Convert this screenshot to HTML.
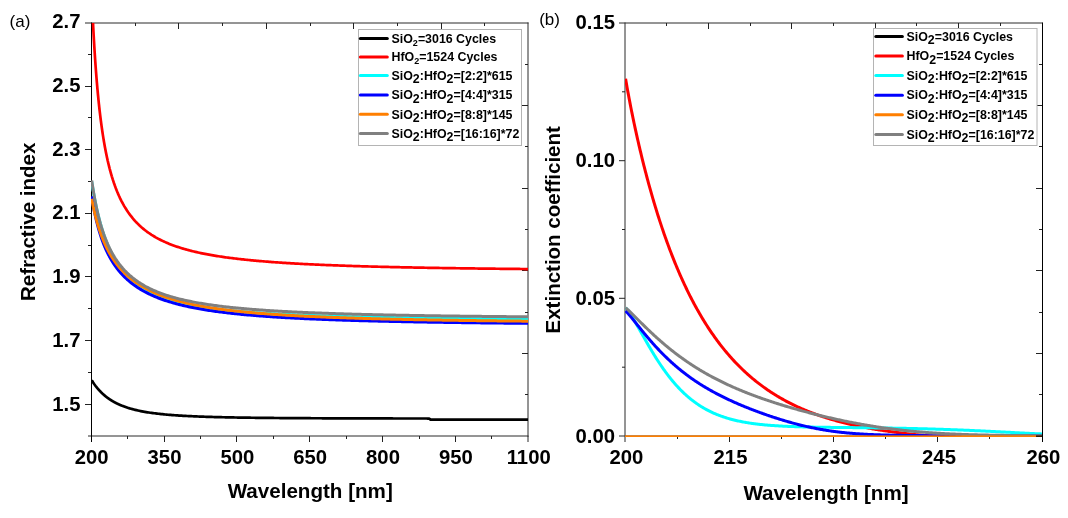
<!DOCTYPE html><html><head><meta charset="utf-8"><style>html,body{margin:0;padding:0;background:#fff;}svg{display:block;will-change:transform;}text{font-family:"Liberation Sans",sans-serif;fill:#000;}</style></head><body>
<svg width="1068" height="518" viewBox="0 0 1068 518">
<rect width="1068" height="518" fill="#fff"/>
<defs><clipPath id="ca"><rect x="91" y="23" width="437" height="413"/></clipPath><clipPath id="cb"><rect x="625" y="23" width="417" height="413"/></clipPath></defs>
<line x1="85" y1="23" x2="528.5" y2="23" stroke="#2a2a2a" stroke-width="1"/>
<line x1="88" y1="436" x2="528.5" y2="436" stroke="#2a2a2a" stroke-width="1"/>
<line x1="528" y1="22.5" x2="528" y2="436.5" stroke="#2a2a2a" stroke-width="1"/>
<line x1="91.5" y1="22.5" x2="91.5" y2="442" stroke="#000" stroke-width="1"/>
<line x1="127.5" y1="436" x2="127.5" y2="439" stroke="#222" stroke-width="1"/>
<line x1="164.5" y1="436" x2="164.5" y2="442" stroke="#222" stroke-width="1"/>
<line x1="200.5" y1="436" x2="200.5" y2="439" stroke="#222" stroke-width="1"/>
<line x1="236.5" y1="436" x2="236.5" y2="442" stroke="#222" stroke-width="1"/>
<line x1="273.5" y1="436" x2="273.5" y2="439" stroke="#222" stroke-width="1"/>
<line x1="309.5" y1="436" x2="309.5" y2="442" stroke="#222" stroke-width="1"/>
<line x1="346.5" y1="436" x2="346.5" y2="439" stroke="#222" stroke-width="1"/>
<line x1="382.5" y1="436" x2="382.5" y2="442" stroke="#222" stroke-width="1"/>
<line x1="419.5" y1="436" x2="419.5" y2="439" stroke="#222" stroke-width="1"/>
<line x1="455.5" y1="436" x2="455.5" y2="442" stroke="#222" stroke-width="1"/>
<line x1="491.5" y1="436" x2="491.5" y2="439" stroke="#222" stroke-width="1"/>
<line x1="528.0" y1="436" x2="528.0" y2="442" stroke="#2a2a2a" stroke-width="1"/>
<line x1="135.5" y1="23" x2="135.5" y2="26" stroke="#222" stroke-width="1"/>
<line x1="178.5" y1="23" x2="178.5" y2="29" stroke="#222" stroke-width="1"/>
<line x1="222.5" y1="23" x2="222.5" y2="26" stroke="#222" stroke-width="1"/>
<line x1="266.5" y1="23" x2="266.5" y2="29" stroke="#222" stroke-width="1"/>
<line x1="310.5" y1="23" x2="310.5" y2="26" stroke="#222" stroke-width="1"/>
<line x1="353.5" y1="23" x2="353.5" y2="29" stroke="#222" stroke-width="1"/>
<line x1="397.5" y1="23" x2="397.5" y2="26" stroke="#222" stroke-width="1"/>
<line x1="441.5" y1="23" x2="441.5" y2="29" stroke="#222" stroke-width="1"/>
<line x1="484.5" y1="23" x2="484.5" y2="26" stroke="#222" stroke-width="1"/>
<line x1="88" y1="54.5" x2="91" y2="54.5" stroke="#222" stroke-width="1"/>
<line x1="85" y1="86.5" x2="91" y2="86.5" stroke="#222" stroke-width="1"/>
<line x1="88" y1="117.5" x2="91" y2="117.5" stroke="#222" stroke-width="1"/>
<line x1="85" y1="149.5" x2="91" y2="149.5" stroke="#222" stroke-width="1"/>
<line x1="88" y1="181.5" x2="91" y2="181.5" stroke="#222" stroke-width="1"/>
<line x1="85" y1="213.5" x2="91" y2="213.5" stroke="#222" stroke-width="1"/>
<line x1="88" y1="245.5" x2="91" y2="245.5" stroke="#222" stroke-width="1"/>
<line x1="85" y1="276.5" x2="91" y2="276.5" stroke="#222" stroke-width="1"/>
<line x1="88" y1="308.5" x2="91" y2="308.5" stroke="#222" stroke-width="1"/>
<line x1="85" y1="340.5" x2="91" y2="340.5" stroke="#222" stroke-width="1"/>
<line x1="88" y1="372.5" x2="91" y2="372.5" stroke="#222" stroke-width="1"/>
<line x1="85" y1="404.5" x2="91" y2="404.5" stroke="#222" stroke-width="1"/>
<line x1="525" y1="64.5" x2="528" y2="64.5" stroke="#222" stroke-width="1"/>
<line x1="522" y1="105.5" x2="528" y2="105.5" stroke="#222" stroke-width="1"/>
<line x1="525" y1="146.5" x2="528" y2="146.5" stroke="#222" stroke-width="1"/>
<line x1="522" y1="188.5" x2="528" y2="188.5" stroke="#222" stroke-width="1"/>
<line x1="525" y1="229.5" x2="528" y2="229.5" stroke="#222" stroke-width="1"/>
<line x1="522" y1="270.5" x2="528" y2="270.5" stroke="#222" stroke-width="1"/>
<line x1="525" y1="312.5" x2="528" y2="312.5" stroke="#222" stroke-width="1"/>
<line x1="522" y1="353.5" x2="528" y2="353.5" stroke="#222" stroke-width="1"/>
<line x1="525" y1="394.5" x2="528" y2="394.5" stroke="#222" stroke-width="1"/>
<g clip-path="url(#ca)" fill="none" stroke-width="3.0" stroke-linejoin="round">
<path d="M91.73,380.29 L91.85,380.48 L91.97,380.67 L92.08,380.86 L92.20,381.04 L92.32,381.23 L92.44,381.42 L92.56,381.60 L92.68,381.78 L92.80,381.96 L92.92,382.15 L93.04,382.32 L93.15,382.50 L93.27,382.68 L93.39,382.86 L93.51,383.03 L93.63,383.21 L93.75,383.38 L93.87,383.55 L93.99,383.72 L94.11,383.89 L94.22,384.06 L94.34,384.23 L94.46,384.39 L94.58,384.56 L94.70,384.72 L94.82,384.89 L94.94,385.05 L95.06,385.21 L95.17,385.37 L95.29,385.53 L95.41,385.69 L95.53,385.85 L95.65,386.00 L95.77,386.16 L95.89,386.31 L96.01,386.47 L96.13,386.62 L96.24,386.77 L96.36,386.92 L96.48,387.07 L96.60,387.22 L96.72,387.37 L96.84,387.52 L96.96,387.66 L97.08,387.81 L97.20,387.95 L97.31,388.10 L97.43,388.24 L97.55,388.38 L97.67,388.52 L97.79,388.67 L97.91,388.80 L98.03,388.94 L98.15,389.08 L98.27,389.22 L98.38,389.35 L98.50,389.49 L98.62,389.62 L98.74,389.76 L98.86,389.89 L98.98,390.02 L99.10,390.16 L99.22,390.29 L99.33,390.42 L99.45,390.54 L99.57,390.67 L99.69,390.80 L99.81,390.93 L99.93,391.05 L100.05,391.18 L100.17,391.30 L100.29,391.43 L100.40,391.55 L100.52,391.67 L100.64,391.80 L100.76,391.92 L100.88,392.04 L101.00,392.16 L101.12,392.28 L101.24,392.39 L101.36,392.51 L101.47,392.63 L101.59,392.75 L101.71,392.86 L101.83,392.98 L101.95,393.09 L102.07,393.20 L102.19,393.32 L102.31,393.43 L102.42,393.54 L102.54,393.65 L102.66,393.76 L102.78,393.87 L102.90,393.98 L103.02,394.09 L103.14,394.20 L103.26,394.31 L103.38,394.41 L103.49,394.52 L103.61,394.62 L103.73,394.73 L103.85,394.83 L103.97,394.94 L104.09,395.04 L104.21,395.14 L104.33,395.25 L104.45,395.35 L104.56,395.45 L104.68,395.55 L104.80,395.65 L104.92,395.75 L105.04,395.85 L105.16,395.95 L105.28,396.04 L105.40,396.14 L105.51,396.24 L105.63,396.33 L105.75,396.43 L105.87,396.52 L105.99,396.62 L106.11,396.71 L106.23,396.81 L106.35,396.90 L106.47,396.99 L106.58,397.08 L106.70,397.17 L106.82,397.27 L106.94,397.36 L107.06,397.45 L107.18,397.53 L107.30,397.62 L107.42,397.71 L107.54,397.80 L107.65,397.89 L107.77,397.98 L107.89,398.06 L108.01,398.15 L108.13,398.23 L108.25,398.32 L108.37,398.40 L108.49,398.49 L108.60,398.57 L108.72,398.66 L108.84,398.74 L108.96,398.82 L109.08,398.90 L109.20,398.98 L109.32,399.07 L109.44,399.15 L109.56,399.23 L109.67,399.31 L109.79,399.39 L109.91,399.47 L110.03,399.54 L110.15,399.62 L110.27,399.70 L110.39,399.78 L110.51,399.85 L110.63,399.93 L110.74,400.01 L110.86,400.08 L110.98,400.16 L111.10,400.23 L111.22,400.31 L111.34,400.38 L111.46,400.46 L111.58,400.53 L111.70,400.60 L111.81,400.68 L111.93,400.75 L112.05,400.82 L112.17,400.89 L112.29,400.96 L112.41,401.03 L112.53,401.10 L112.65,401.17 L112.76,401.24 L112.88,401.31 L113.00,401.38 L113.12,401.45 L113.24,401.52 L113.36,401.59 L113.48,401.66 L113.60,401.72 L113.72,401.79 L113.83,401.86 L113.95,401.92 L114.07,401.99 L114.19,402.05 L114.31,402.12 L114.43,402.19 L114.55,402.25 L114.67,402.31 L114.79,402.38 L114.90,402.44 L115.02,402.51 L115.14,402.57 L115.26,402.63 L115.38,402.69 L115.50,402.76 L115.62,402.82 L115.74,402.88 L115.85,402.94 L115.97,403.00 L116.09,403.06 L116.21,403.12 L116.33,403.18 L116.45,403.24 L116.57,403.30 L116.69,403.36 L116.81,403.42 L116.92,403.48 L117.04,403.54 L117.16,403.59 L117.28,403.65 L117.40,403.71 L117.52,403.77 L117.64,403.82 L117.76,403.88 L117.88,403.94 L117.99,403.99 L118.11,404.05 L118.23,404.10 L118.35,404.16 L118.47,404.21 L118.59,404.27 L118.71,404.32 L118.83,404.38 L118.94,404.43 L119.06,404.48 L119.18,404.54 L119.30,404.59 L119.42,404.64 L119.54,404.69 L119.66,404.75 L119.78,404.80 L119.90,404.85 L120.01,404.90 L120.13,404.95 L121.50,405.53 L122.87,406.07 L124.24,406.58 L125.60,407.07 L126.97,407.53 L128.34,407.97 L129.70,408.39 L131.07,408.78 L132.44,409.16 L133.81,409.52 L135.17,409.86 L136.54,410.18 L137.91,410.49 L139.28,410.79 L140.64,411.07 L142.01,411.34 L143.38,411.59 L144.75,411.84 L146.11,412.07 L147.48,412.30 L148.85,412.51 L150.22,412.72 L151.58,412.91 L152.95,413.10 L154.32,413.28 L155.68,413.45 L157.05,413.62 L158.42,413.78 L159.79,413.93 L161.15,414.07 L162.52,414.21 L163.89,414.35 L165.26,414.48 L166.62,414.60 L167.99,414.72 L169.36,414.84 L170.73,414.95 L172.09,415.06 L173.46,415.16 L174.83,415.26 L176.19,415.35 L177.56,415.44 L178.93,415.53 L180.30,415.62 L181.66,415.70 L183.03,415.78 L184.40,415.86 L185.77,415.93 L187.13,416.00 L188.50,416.07 L189.87,416.14 L191.24,416.20 L192.60,416.27 L193.97,416.33 L195.34,416.39 L196.70,416.44 L198.07,416.50 L199.44,416.55 L200.81,416.60 L202.17,416.65 L203.54,416.70 L204.91,416.75 L206.28,416.79 L207.64,416.84 L209.01,416.88 L210.38,416.92 L211.75,416.96 L213.11,417.00 L214.48,417.04 L215.85,417.07 L217.22,417.11 L218.58,417.14 L219.95,417.18 L221.32,417.21 L222.68,417.24 L224.05,417.27 L225.42,417.30 L226.79,417.33 L228.15,417.36 L229.52,417.39 L230.89,417.41 L232.26,417.44 L233.62,417.46 L234.99,417.49 L236.36,417.51 L237.73,417.54 L239.09,417.56 L240.46,417.58 L241.83,417.60 L243.19,417.62 L244.56,417.64 L245.93,417.66 L247.30,417.68 L248.66,417.70 L250.03,417.72 L251.40,417.74 L252.77,417.76 L254.13,417.77 L255.50,417.79 L256.87,417.81 L258.24,417.82 L259.60,417.84 L260.97,417.85 L262.34,417.87 L263.71,417.88 L265.07,417.90 L266.44,417.91 L267.81,417.92 L269.17,417.94 L270.54,417.95 L271.91,417.96 L273.28,417.97 L274.64,417.99 L276.01,418.00 L277.38,418.01 L278.75,418.02 L280.11,418.03 L281.48,418.04 L282.85,418.05 L284.22,418.06 L285.58,418.07 L286.95,418.08 L288.32,418.09 L289.68,418.10 L291.05,418.11 L292.42,418.12 L293.79,418.13 L295.15,418.14 L296.52,418.15 L297.89,418.15 L299.26,418.16 L300.62,418.17 L301.99,418.18 L303.36,418.19 L304.73,418.19 L306.09,418.20 L307.46,418.21 L308.83,418.22 L310.20,418.22 L311.56,418.23 L312.93,418.24 L314.30,418.24 L315.66,418.25 L317.03,418.25 L318.40,418.26 L319.77,418.27 L321.13,418.27 L322.50,418.28 L323.87,418.28 L325.24,418.29 L326.60,418.30 L327.97,418.30 L329.34,418.31 L330.71,418.31 L332.07,418.32 L333.44,418.32 L334.81,418.33 L336.17,418.33 L337.54,418.34 L338.91,418.34 L340.28,418.35 L341.64,418.35 L343.01,418.35 L344.38,418.36 L345.75,418.36 L347.11,418.37 L348.48,418.37 L349.85,418.38 L351.22,418.38 L352.58,418.38 L353.95,418.39 L355.32,418.39 L356.68,418.39 L358.05,418.40 L359.42,418.40 L360.79,418.41 L362.15,418.41 L363.52,418.41 L364.89,418.42 L366.26,418.42 L367.62,418.42 L368.99,418.43 L370.36,418.43 L371.73,418.43 L373.09,418.43 L374.46,418.44 L375.83,418.44 L377.20,418.44 L378.56,418.45 L379.93,418.45 L381.30,418.45 L382.66,418.46 L384.03,418.46 L385.40,418.46 L386.77,418.46 L388.13,418.47 L389.50,418.47 L390.87,418.47 L392.24,418.47 L393.60,418.48 L394.97,418.48 L396.34,418.48 L397.71,418.48 L399.07,418.48 L400.44,418.49 L401.81,418.49 L403.17,418.49 L404.54,418.49 L405.91,418.50 L407.28,418.50 L408.64,418.50 L410.01,418.50 L411.38,418.50 L412.75,418.51 L414.11,418.51 L415.48,418.51 L416.85,418.51 L418.22,418.51 L419.58,418.52 L420.95,418.52 L422.32,418.52 L423.69,418.52 L425.05,418.52 L426.42,418.52 L427.79,418.53 L429.15,418.53 L430.52,419.63 L431.89,419.63 L433.26,419.63 L434.62,419.63 L435.99,419.64 L437.36,419.64 L438.73,419.64 L440.09,419.64 L441.46,419.64 L442.83,419.64 L444.20,419.64 L445.56,419.65 L446.93,419.65 L448.30,419.65 L449.66,419.65 L451.03,419.65 L452.40,419.65 L453.77,419.65 L455.13,419.66 L456.50,419.66 L457.87,419.66 L459.24,419.66 L460.60,419.66 L461.97,419.66 L463.34,419.66 L464.71,419.66 L466.07,419.67 L467.44,419.67 L468.81,419.67 L470.18,419.67 L471.54,419.67 L472.91,419.67 L474.28,419.67 L475.64,419.67 L477.01,419.67 L478.38,419.68 L479.75,419.68 L481.11,419.68 L482.48,419.68 L483.85,419.68 L485.22,419.68 L486.58,419.68 L487.95,419.68 L489.32,419.68 L490.69,419.69 L492.05,419.69 L493.42,419.69 L494.79,419.69 L496.15,419.69 L497.52,419.69 L498.89,419.69 L500.26,419.69 L501.62,419.69 L502.99,419.69 L504.36,419.69 L505.73,419.69 L507.09,419.70 L508.46,419.70 L509.83,419.70 L511.20,419.70 L512.56,419.70 L513.93,419.70 L515.30,419.70 L516.66,419.70 L518.03,419.70 L519.40,419.70 L520.77,419.70 L522.13,419.70 L523.50,419.71 L524.87,419.71 L526.24,419.71 L527.60,419.71 L528.97,419.71" stroke="#000000" stroke-width="2.7"/>
<path d="M91.73,-5.65 L91.85,-2.75 L91.97,0.10 L92.08,2.89 L92.20,5.62 L92.32,8.31 L92.44,10.94 L92.56,13.52 L92.68,16.05 L92.80,18.53 L92.92,20.97 L93.04,23.36 L93.15,25.71 L93.27,28.02 L93.39,30.29 L93.51,32.51 L93.63,34.70 L93.75,36.85 L93.87,38.96 L93.99,41.04 L94.11,43.08 L94.22,45.08 L94.34,47.06 L94.46,49.00 L94.58,50.90 L94.70,52.78 L94.82,54.63 L94.94,56.45 L95.06,58.23 L95.17,60.00 L95.29,61.73 L95.41,63.43 L95.53,65.11 L95.65,66.77 L95.77,68.40 L95.89,70.00 L96.01,71.58 L96.13,73.14 L96.24,74.67 L96.36,76.19 L96.48,77.68 L96.60,79.14 L96.72,80.59 L96.84,82.02 L96.96,83.43 L97.08,84.81 L97.20,86.18 L97.31,87.53 L97.43,88.86 L97.55,90.17 L97.67,91.47 L97.79,92.75 L97.91,94.01 L98.03,95.25 L98.15,96.48 L98.27,97.69 L98.38,98.89 L98.50,100.07 L98.62,101.23 L98.74,102.38 L98.86,103.52 L98.98,104.64 L99.10,105.75 L99.22,106.84 L99.33,107.92 L99.45,108.99 L99.57,110.04 L99.69,111.08 L99.81,112.11 L99.93,113.13 L100.05,114.13 L100.17,115.13 L100.29,116.11 L100.40,117.08 L100.52,118.03 L100.64,118.98 L100.76,119.92 L100.88,120.84 L101.00,121.76 L101.12,122.66 L101.24,123.56 L101.36,124.44 L101.47,125.32 L101.59,126.18 L101.71,127.04 L101.83,127.89 L101.95,128.72 L102.07,129.55 L102.19,130.37 L102.31,131.18 L102.42,131.98 L102.54,132.78 L102.66,133.56 L102.78,134.34 L102.90,135.11 L103.02,135.87 L103.14,136.62 L103.26,137.37 L103.38,138.10 L103.49,138.83 L103.61,139.56 L103.73,140.27 L103.85,140.98 L103.97,141.68 L104.09,142.38 L104.21,143.06 L104.33,143.74 L104.45,144.42 L104.56,145.09 L104.68,145.75 L104.80,146.40 L104.92,147.05 L105.04,147.69 L105.16,148.33 L105.28,148.96 L105.40,149.59 L105.51,150.20 L105.63,150.82 L105.75,151.42 L105.87,152.03 L105.99,152.62 L106.11,153.21 L106.23,153.80 L106.35,154.38 L106.47,154.95 L106.58,155.52 L106.70,156.09 L106.82,156.65 L106.94,157.20 L107.06,157.75 L107.18,158.30 L107.30,158.84 L107.42,159.37 L107.54,159.90 L107.65,160.43 L107.77,160.95 L107.89,161.47 L108.01,161.98 L108.13,162.49 L108.25,163.00 L108.37,163.50 L108.49,163.99 L108.60,164.48 L108.72,164.97 L108.84,165.45 L108.96,165.93 L109.08,166.41 L109.20,166.88 L109.32,167.35 L109.44,167.81 L109.56,168.27 L109.67,168.73 L109.79,169.18 L109.91,169.63 L110.03,170.08 L110.15,170.52 L110.27,170.96 L110.39,171.40 L110.51,171.83 L110.63,172.26 L110.74,172.68 L110.86,173.11 L110.98,173.52 L111.10,173.94 L111.22,174.35 L111.34,174.76 L111.46,175.17 L111.58,175.57 L111.70,175.97 L111.81,176.37 L111.93,176.76 L112.05,177.15 L112.17,177.54 L112.29,177.93 L112.41,178.31 L112.53,178.69 L112.65,179.07 L112.76,179.44 L112.88,179.81 L113.00,180.18 L113.12,180.55 L113.24,180.91 L113.36,181.27 L113.48,181.63 L113.60,181.99 L113.72,182.34 L113.83,182.69 L113.95,183.04 L114.07,183.39 L114.19,183.73 L114.31,184.07 L114.43,184.41 L114.55,184.75 L114.67,185.08 L114.79,185.41 L114.90,185.74 L115.02,186.07 L115.14,186.40 L115.26,186.72 L115.38,187.04 L115.50,187.36 L115.62,187.68 L115.74,187.99 L115.85,188.30 L115.97,188.61 L116.09,188.92 L116.21,189.23 L116.33,189.53 L116.45,189.83 L116.57,190.13 L116.69,190.43 L116.81,190.73 L116.92,191.02 L117.04,191.31 L117.16,191.61 L117.28,191.89 L117.40,192.18 L117.52,192.47 L117.64,192.75 L117.76,193.03 L117.88,193.31 L117.99,193.59 L118.11,193.86 L118.23,194.14 L118.35,194.41 L118.47,194.68 L118.59,194.95 L118.71,195.22 L118.83,195.49 L118.94,195.75 L119.06,196.01 L119.18,196.27 L119.30,196.53 L119.42,196.79 L119.54,197.05 L119.66,197.30 L119.78,197.56 L119.90,197.81 L120.01,198.06 L120.13,198.31 L121.50,201.07 L122.87,203.65 L124.24,206.07 L125.60,208.34 L126.97,210.48 L128.34,212.50 L129.70,214.41 L131.07,216.21 L132.44,217.92 L133.81,219.53 L135.17,221.07 L136.54,222.53 L137.91,223.92 L139.28,225.25 L140.64,226.51 L142.01,227.72 L143.38,228.87 L144.75,229.97 L146.11,231.03 L147.48,232.04 L148.85,233.01 L150.22,233.94 L151.58,234.84 L152.95,235.70 L154.32,236.52 L155.68,237.32 L157.05,238.08 L158.42,238.82 L159.79,239.53 L161.15,240.22 L162.52,240.88 L163.89,241.52 L165.26,242.14 L166.62,242.74 L167.99,243.32 L169.36,243.88 L170.73,244.42 L172.09,244.95 L173.46,245.45 L174.83,245.95 L176.19,246.43 L177.56,246.89 L178.93,247.34 L180.30,247.78 L181.66,248.20 L183.03,248.61 L184.40,249.01 L185.77,249.40 L187.13,249.78 L188.50,250.15 L189.87,250.51 L191.24,250.86 L192.60,251.20 L193.97,251.53 L195.34,251.85 L196.70,252.17 L198.07,252.47 L199.44,252.77 L200.81,253.06 L202.17,253.35 L203.54,253.62 L204.91,253.89 L206.28,254.16 L207.64,254.42 L209.01,254.67 L210.38,254.91 L211.75,255.15 L213.11,255.39 L214.48,255.62 L215.85,255.84 L217.22,256.06 L218.58,256.28 L219.95,256.49 L221.32,256.69 L222.68,256.90 L224.05,257.09 L225.42,257.29 L226.79,257.47 L228.15,257.66 L229.52,257.84 L230.89,258.02 L232.26,258.19 L233.62,258.36 L234.99,258.53 L236.36,258.69 L237.73,258.85 L239.09,259.01 L240.46,259.16 L241.83,259.32 L243.19,259.46 L244.56,259.61 L245.93,259.75 L247.30,259.89 L248.66,260.03 L250.03,260.16 L251.40,260.30 L252.77,260.43 L254.13,260.56 L255.50,260.68 L256.87,260.80 L258.24,260.93 L259.60,261.04 L260.97,261.16 L262.34,261.28 L263.71,261.39 L265.07,261.50 L266.44,261.61 L267.81,261.72 L269.17,261.82 L270.54,261.93 L271.91,262.03 L273.28,262.13 L274.64,262.23 L276.01,262.32 L277.38,262.42 L278.75,262.51 L280.11,262.61 L281.48,262.70 L282.85,262.79 L284.22,262.88 L285.58,262.96 L286.95,263.05 L288.32,263.13 L289.68,263.21 L291.05,263.30 L292.42,263.38 L293.79,263.46 L295.15,263.53 L296.52,263.61 L297.89,263.69 L299.26,263.76 L300.62,263.83 L301.99,263.91 L303.36,263.98 L304.73,264.05 L306.09,264.12 L307.46,264.19 L308.83,264.25 L310.20,264.32 L311.56,264.39 L312.93,264.45 L314.30,264.51 L315.66,264.58 L317.03,264.64 L318.40,264.70 L319.77,264.76 L321.13,264.82 L322.50,264.88 L323.87,264.93 L325.24,264.99 L326.60,265.05 L327.97,265.10 L329.34,265.16 L330.71,265.21 L332.07,265.27 L333.44,265.32 L334.81,265.37 L336.17,265.42 L337.54,265.47 L338.91,265.52 L340.28,265.57 L341.64,265.62 L343.01,265.67 L344.38,265.72 L345.75,265.76 L347.11,265.81 L348.48,265.85 L349.85,265.90 L351.22,265.94 L352.58,265.99 L353.95,266.03 L355.32,266.08 L356.68,266.12 L358.05,266.16 L359.42,266.20 L360.79,266.24 L362.15,266.28 L363.52,266.32 L364.89,266.36 L366.26,266.40 L367.62,266.44 L368.99,266.48 L370.36,266.52 L371.73,266.55 L373.09,266.59 L374.46,266.63 L375.83,266.66 L377.20,266.70 L378.56,266.73 L379.93,266.77 L381.30,266.80 L382.66,266.84 L384.03,266.87 L385.40,266.90 L386.77,266.94 L388.13,266.97 L389.50,267.00 L390.87,267.03 L392.24,267.07 L393.60,267.10 L394.97,267.13 L396.34,267.16 L397.71,267.19 L399.07,267.22 L400.44,267.25 L401.81,267.28 L403.17,267.31 L404.54,267.33 L405.91,267.36 L407.28,267.39 L408.64,267.42 L410.01,267.45 L411.38,267.47 L412.75,267.50 L414.11,267.53 L415.48,267.55 L416.85,267.58 L418.22,267.61 L419.58,267.63 L420.95,267.66 L422.32,267.68 L423.69,267.71 L425.05,267.73 L426.42,267.75 L427.79,267.78 L429.15,267.80 L430.52,267.83 L431.89,267.85 L433.26,267.87 L434.62,267.90 L435.99,267.92 L437.36,267.94 L438.73,267.96 L440.09,267.98 L441.46,268.01 L442.83,268.03 L444.20,268.05 L445.56,268.07 L446.93,268.09 L448.30,268.11 L449.66,268.13 L451.03,268.15 L452.40,268.17 L453.77,268.19 L455.13,268.21 L456.50,268.23 L457.87,268.25 L459.24,268.27 L460.60,268.29 L461.97,268.31 L463.34,268.33 L464.71,268.35 L466.07,268.37 L467.44,268.38 L468.81,268.40 L470.18,268.42 L471.54,268.44 L472.91,268.46 L474.28,268.47 L475.64,268.49 L477.01,268.51 L478.38,268.53 L479.75,268.54 L481.11,268.56 L482.48,268.58 L483.85,268.59 L485.22,268.61 L486.58,268.62 L487.95,268.64 L489.32,268.66 L490.69,268.67 L492.05,268.69 L493.42,268.70 L494.79,268.72 L496.15,268.73 L497.52,268.75 L498.89,268.76 L500.26,268.78 L501.62,268.79 L502.99,268.81 L504.36,268.82 L505.73,268.84 L507.09,268.85 L508.46,268.87 L509.83,268.88 L511.20,268.89 L512.56,268.91 L513.93,268.92 L515.30,268.93 L516.66,268.95 L518.03,268.96 L519.40,268.97 L520.77,268.99 L522.13,269.00 L523.50,269.01 L524.87,269.03 L526.24,269.04 L527.60,269.05 L528.97,269.06" stroke="#ff0000" stroke-width="2.7"/>
<path d="M91.73,181.60 L91.85,182.37 L91.97,183.13 L92.08,183.89 L92.20,184.64 L92.32,185.39 L92.44,186.12 L92.56,186.85 L92.68,187.58 L92.80,188.29 L92.92,189.00 L93.04,189.71 L93.15,190.41 L93.27,191.10 L93.39,191.78 L93.51,192.46 L93.63,193.14 L93.75,193.81 L93.87,194.47 L93.99,195.12 L94.11,195.77 L94.22,196.42 L94.34,197.06 L94.46,197.69 L94.58,198.32 L94.70,198.95 L94.82,199.56 L94.94,200.18 L95.06,200.78 L95.17,201.39 L95.29,201.98 L95.41,202.58 L95.53,203.17 L95.65,203.75 L95.77,204.33 L95.89,204.90 L96.01,205.47 L96.13,206.03 L96.24,206.59 L96.36,207.15 L96.48,207.70 L96.60,208.24 L96.72,208.79 L96.84,209.32 L96.96,209.86 L97.08,210.38 L97.20,210.91 L97.31,211.43 L97.43,211.95 L97.55,212.46 L97.67,212.97 L97.79,213.47 L97.91,213.97 L98.03,214.47 L98.15,214.96 L98.27,215.45 L98.38,215.94 L98.50,216.42 L98.62,216.90 L98.74,217.37 L98.86,217.84 L98.98,218.31 L99.10,218.78 L99.22,219.24 L99.33,219.69 L99.45,220.15 L99.57,220.60 L99.69,221.04 L99.81,221.49 L99.93,221.93 L100.05,222.37 L100.17,222.80 L100.29,223.23 L100.40,223.66 L100.52,224.08 L100.64,224.50 L100.76,224.92 L100.88,225.34 L101.00,225.75 L101.12,226.16 L101.24,226.57 L101.36,226.97 L101.47,227.37 L101.59,227.77 L101.71,228.17 L101.83,228.56 L101.95,228.95 L102.07,229.34 L102.19,229.72 L102.31,230.10 L102.42,230.48 L102.54,230.86 L102.66,231.23 L102.78,231.60 L102.90,231.97 L103.02,232.34 L103.14,232.70 L103.26,233.07 L103.38,233.43 L103.49,233.78 L103.61,234.14 L103.73,234.49 L103.85,234.84 L103.97,235.19 L104.09,235.53 L104.21,235.87 L104.33,236.21 L104.45,236.55 L104.56,236.89 L104.68,237.22 L104.80,237.55 L104.92,237.88 L105.04,238.21 L105.16,238.54 L105.28,238.86 L105.40,239.18 L105.51,239.50 L105.63,239.82 L105.75,240.13 L105.87,240.44 L105.99,240.76 L106.11,241.06 L106.23,241.37 L106.35,241.68 L106.47,241.98 L106.58,242.28 L106.70,242.58 L106.82,242.88 L106.94,243.17 L107.06,243.47 L107.18,243.76 L107.30,244.05 L107.42,244.34 L107.54,244.63 L107.65,244.91 L107.77,245.19 L107.89,245.47 L108.01,245.75 L108.13,246.03 L108.25,246.31 L108.37,246.58 L108.49,246.86 L108.60,247.13 L108.72,247.40 L108.84,247.67 L108.96,247.93 L109.08,248.20 L109.20,248.46 L109.32,248.72 L109.44,248.98 L109.56,249.24 L109.67,249.50 L109.79,249.76 L109.91,250.01 L110.03,250.26 L110.15,250.51 L110.27,250.76 L110.39,251.01 L110.51,251.26 L110.63,251.51 L110.74,251.75 L110.86,251.99 L110.98,252.23 L111.10,252.47 L111.22,252.71 L111.34,252.95 L111.46,253.19 L111.58,253.42 L111.70,253.65 L111.81,253.89 L111.93,254.12 L112.05,254.35 L112.17,254.57 L112.29,254.80 L112.41,255.03 L112.53,255.25 L112.65,255.47 L112.76,255.70 L112.88,255.92 L113.00,256.14 L113.12,256.35 L113.24,256.57 L113.36,256.79 L113.48,257.00 L113.60,257.21 L113.72,257.43 L113.83,257.64 L113.95,257.85 L114.07,258.06 L114.19,258.26 L114.31,258.47 L114.43,258.68 L114.55,258.88 L114.67,259.08 L114.79,259.29 L114.90,259.49 L115.02,259.69 L115.14,259.89 L115.26,260.09 L115.38,260.28 L115.50,260.48 L115.62,260.67 L115.74,260.87 L115.85,261.06 L115.97,261.25 L116.09,261.44 L116.21,261.63 L116.33,261.82 L116.45,262.01 L116.57,262.20 L116.69,262.38 L116.81,262.57 L116.92,262.75 L117.04,262.93 L117.16,263.12 L117.28,263.30 L117.40,263.48 L117.52,263.66 L117.64,263.84 L117.76,264.01 L117.88,264.19 L117.99,264.37 L118.11,264.54 L118.23,264.72 L118.35,264.89 L118.47,265.06 L118.59,265.23 L118.71,265.40 L118.83,265.57 L118.94,265.74 L119.06,265.91 L119.18,266.08 L119.30,266.24 L119.42,266.41 L119.54,266.57 L119.66,266.74 L119.78,266.90 L119.90,267.06 L120.01,267.23 L120.13,267.39 L121.50,269.18 L122.87,270.88 L124.24,272.49 L125.60,274.02 L126.97,275.48 L128.34,276.86 L129.70,278.17 L131.07,279.43 L132.44,280.62 L133.81,281.76 L135.17,282.85 L136.54,283.89 L137.91,284.89 L139.28,285.85 L140.64,286.76 L142.01,287.64 L143.38,288.48 L144.75,289.29 L146.11,290.06 L147.48,290.81 L148.85,291.53 L150.22,292.22 L151.58,292.89 L152.95,293.53 L154.32,294.15 L155.68,294.74 L157.05,295.32 L158.42,295.87 L159.79,296.41 L161.15,296.93 L162.52,297.43 L163.89,297.92 L165.26,298.39 L166.62,298.84 L167.99,299.28 L169.36,299.71 L170.73,300.12 L172.09,300.52 L173.46,300.91 L174.83,301.29 L176.19,301.65 L177.56,302.01 L178.93,302.35 L180.30,302.69 L181.66,303.02 L183.03,303.33 L184.40,303.64 L185.77,303.94 L187.13,304.23 L188.50,304.52 L189.87,304.79 L191.24,305.06 L192.60,305.32 L193.97,305.58 L195.34,305.83 L196.70,306.07 L198.07,306.31 L199.44,306.54 L200.81,306.76 L202.17,306.98 L203.54,307.20 L204.91,307.41 L206.28,307.61 L207.64,307.81 L209.01,308.01 L210.38,308.20 L211.75,308.38 L213.11,308.56 L214.48,308.74 L215.85,308.92 L217.22,309.09 L218.58,309.25 L219.95,309.41 L221.32,309.57 L222.68,309.73 L224.05,309.88 L225.42,310.03 L226.79,310.18 L228.15,310.32 L229.52,310.46 L230.89,310.60 L232.26,310.73 L233.62,310.87 L234.99,310.99 L236.36,311.12 L237.73,311.25 L239.09,311.37 L240.46,311.49 L241.83,311.60 L243.19,311.72 L244.56,311.83 L245.93,311.94 L247.30,312.05 L248.66,312.16 L250.03,312.26 L251.40,312.36 L252.77,312.46 L254.13,312.56 L255.50,312.66 L256.87,312.76 L258.24,312.85 L259.60,312.94 L260.97,313.03 L262.34,313.12 L263.71,313.21 L265.07,313.30 L266.44,313.38 L267.81,313.46 L269.17,313.54 L270.54,313.62 L271.91,313.70 L273.28,313.78 L274.64,313.86 L276.01,313.93 L277.38,314.01 L278.75,314.08 L280.11,314.15 L281.48,314.22 L282.85,314.29 L284.22,314.36 L285.58,314.42 L286.95,314.49 L288.32,314.56 L289.68,314.62 L291.05,314.68 L292.42,314.74 L293.79,314.81 L295.15,314.87 L296.52,314.93 L297.89,314.98 L299.26,315.04 L300.62,315.10 L301.99,315.15 L303.36,315.21 L304.73,315.26 L306.09,315.32 L307.46,315.37 L308.83,315.42 L310.20,315.47 L311.56,315.52 L312.93,315.57 L314.30,315.62 L315.66,315.67 L317.03,315.72 L318.40,315.76 L319.77,315.81 L321.13,315.86 L322.50,315.90 L323.87,315.95 L325.24,315.99 L326.60,316.03 L327.97,316.08 L329.34,316.12 L330.71,316.16 L332.07,316.20 L333.44,316.24 L334.81,316.28 L336.17,316.32 L337.54,316.36 L338.91,316.40 L340.28,316.44 L341.64,316.47 L343.01,316.51 L344.38,316.55 L345.75,316.58 L347.11,316.62 L348.48,316.65 L349.85,316.69 L351.22,316.72 L352.58,316.76 L353.95,316.79 L355.32,316.82 L356.68,316.86 L358.05,316.89 L359.42,316.92 L360.79,316.95 L362.15,316.98 L363.52,317.01 L364.89,317.04 L366.26,317.07 L367.62,317.10 L368.99,317.13 L370.36,317.16 L371.73,317.19 L373.09,317.22 L374.46,317.25 L375.83,317.28 L377.20,317.30 L378.56,317.33 L379.93,317.36 L381.30,317.38 L382.66,317.41 L384.03,317.44 L385.40,317.46 L386.77,317.49 L388.13,317.51 L389.50,317.54 L390.87,317.56 L392.24,317.58 L393.60,317.61 L394.97,317.63 L396.34,317.66 L397.71,317.68 L399.07,317.70 L400.44,317.72 L401.81,317.75 L403.17,317.77 L404.54,317.79 L405.91,317.81 L407.28,317.83 L408.64,317.86 L410.01,317.88 L411.38,317.90 L412.75,317.92 L414.11,317.94 L415.48,317.96 L416.85,317.98 L418.22,318.00 L419.58,318.02 L420.95,318.04 L422.32,318.06 L423.69,318.08 L425.05,318.09 L426.42,318.11 L427.79,318.13 L429.15,318.15 L430.52,318.17 L431.89,318.19 L433.26,318.20 L434.62,318.22 L435.99,318.24 L437.36,318.26 L438.73,318.27 L440.09,318.29 L441.46,318.31 L442.83,318.32 L444.20,318.34 L445.56,318.36 L446.93,318.37 L448.30,318.39 L449.66,318.40 L451.03,318.42 L452.40,318.43 L453.77,318.45 L455.13,318.46 L456.50,318.48 L457.87,318.49 L459.24,318.51 L460.60,318.52 L461.97,318.54 L463.34,318.55 L464.71,318.57 L466.07,318.58 L467.44,318.60 L468.81,318.61 L470.18,318.62 L471.54,318.64 L472.91,318.65 L474.28,318.66 L475.64,318.68 L477.01,318.69 L478.38,318.70 L479.75,318.72 L481.11,318.73 L482.48,318.74 L483.85,318.75 L485.22,318.77 L486.58,318.78 L487.95,318.79 L489.32,318.80 L490.69,318.81 L492.05,318.83 L493.42,318.84 L494.79,318.85 L496.15,318.86 L497.52,318.87 L498.89,318.89 L500.26,318.90 L501.62,318.91 L502.99,318.92 L504.36,318.93 L505.73,318.94 L507.09,318.95 L508.46,318.96 L509.83,318.97 L511.20,318.98 L512.56,318.99 L513.93,319.00 L515.30,319.02 L516.66,319.03 L518.03,319.04 L519.40,319.05 L520.77,319.06 L522.13,319.07 L523.50,319.08 L524.87,319.09 L526.24,319.10 L527.60,319.10 L528.97,319.11" stroke="#00ffff"/>
<path d="M91.73,196.31 L91.85,197.06 L91.97,197.81 L92.08,198.55 L92.20,199.28 L92.32,200.00 L92.44,200.72 L92.56,201.42 L92.68,202.12 L92.80,202.81 L92.92,203.49 L93.04,204.16 L93.15,204.83 L93.27,205.48 L93.39,206.13 L93.51,206.78 L93.63,207.41 L93.75,208.04 L93.87,208.66 L93.99,209.28 L94.11,209.89 L94.22,210.49 L94.34,211.08 L94.46,211.67 L94.58,212.26 L94.70,212.83 L94.82,213.40 L94.94,213.97 L95.06,214.53 L95.17,215.08 L95.29,215.63 L95.41,216.17 L95.53,216.71 L95.65,217.24 L95.77,217.76 L95.89,218.29 L96.01,218.80 L96.13,219.31 L96.24,219.82 L96.36,220.32 L96.48,220.82 L96.60,221.31 L96.72,221.79 L96.84,222.28 L96.96,222.75 L97.08,223.23 L97.20,223.70 L97.31,224.16 L97.43,224.62 L97.55,225.08 L97.67,225.53 L97.79,225.98 L97.91,226.42 L98.03,226.86 L98.15,227.30 L98.27,227.73 L98.38,228.16 L98.50,228.58 L98.62,229.00 L98.74,229.42 L98.86,229.84 L98.98,230.25 L99.10,230.65 L99.22,231.06 L99.33,231.46 L99.45,231.85 L99.57,232.25 L99.69,232.64 L99.81,233.02 L99.93,233.41 L100.05,233.79 L100.17,234.17 L100.29,234.54 L100.40,234.91 L100.52,235.28 L100.64,235.65 L100.76,236.01 L100.88,236.37 L101.00,236.73 L101.12,237.08 L101.24,237.43 L101.36,237.78 L101.47,238.13 L101.59,238.47 L101.71,238.81 L101.83,239.15 L101.95,239.48 L102.07,239.82 L102.19,240.15 L102.31,240.48 L102.42,240.80 L102.54,241.13 L102.66,241.45 L102.78,241.76 L102.90,242.08 L103.02,242.39 L103.14,242.71 L103.26,243.02 L103.38,243.32 L103.49,243.63 L103.61,243.93 L103.73,244.23 L103.85,244.53 L103.97,244.83 L104.09,245.12 L104.21,245.41 L104.33,245.70 L104.45,245.99 L104.56,246.28 L104.68,246.56 L104.80,246.85 L104.92,247.13 L105.04,247.40 L105.16,247.68 L105.28,247.96 L105.40,248.23 L105.51,248.50 L105.63,248.77 L105.75,249.04 L105.87,249.30 L105.99,249.57 L106.11,249.83 L106.23,250.09 L106.35,250.35 L106.47,250.61 L106.58,250.86 L106.70,251.12 L106.82,251.37 L106.94,251.62 L107.06,251.87 L107.18,252.12 L107.30,252.36 L107.42,252.61 L107.54,252.85 L107.65,253.09 L107.77,253.33 L107.89,253.57 L108.01,253.81 L108.13,254.04 L108.25,254.28 L108.37,254.51 L108.49,254.74 L108.60,254.97 L108.72,255.20 L108.84,255.43 L108.96,255.65 L109.08,255.88 L109.20,256.10 L109.32,256.32 L109.44,256.54 L109.56,256.76 L109.67,256.98 L109.79,257.20 L109.91,257.41 L110.03,257.63 L110.15,257.84 L110.27,258.05 L110.39,258.26 L110.51,258.47 L110.63,258.68 L110.74,258.89 L110.86,259.09 L110.98,259.30 L111.10,259.50 L111.22,259.70 L111.34,259.90 L111.46,260.10 L111.58,260.30 L111.70,260.50 L111.81,260.70 L111.93,260.89 L112.05,261.09 L112.17,261.28 L112.29,261.47 L112.41,261.67 L112.53,261.86 L112.65,262.05 L112.76,262.23 L112.88,262.42 L113.00,262.61 L113.12,262.79 L113.24,262.98 L113.36,263.16 L113.48,263.34 L113.60,263.52 L113.72,263.70 L113.83,263.88 L113.95,264.06 L114.07,264.24 L114.19,264.42 L114.31,264.59 L114.43,264.77 L114.55,264.94 L114.67,265.11 L114.79,265.29 L114.90,265.46 L115.02,265.63 L115.14,265.80 L115.26,265.97 L115.38,266.14 L115.50,266.30 L115.62,266.47 L115.74,266.63 L115.85,266.80 L115.97,266.96 L116.09,267.12 L116.21,267.29 L116.33,267.45 L116.45,267.61 L116.57,267.77 L116.69,267.93 L116.81,268.09 L116.92,268.24 L117.04,268.40 L117.16,268.56 L117.28,268.71 L117.40,268.86 L117.52,269.02 L117.64,269.17 L117.76,269.32 L117.88,269.48 L117.99,269.63 L118.11,269.78 L118.23,269.93 L118.35,270.07 L118.47,270.22 L118.59,270.37 L118.71,270.52 L118.83,270.66 L118.94,270.81 L119.06,270.95 L119.18,271.09 L119.30,271.24 L119.42,271.38 L119.54,271.52 L119.66,271.66 L119.78,271.80 L119.90,271.94 L120.01,272.08 L120.13,272.22 L121.50,273.77 L122.87,275.25 L124.24,276.65 L125.60,277.98 L126.97,279.26 L128.34,280.48 L129.70,281.64 L131.07,282.75 L132.44,283.82 L133.81,284.85 L135.17,285.83 L136.54,286.77 L137.91,287.68 L139.28,288.55 L140.64,289.39 L142.01,290.20 L143.38,290.98 L144.75,291.73 L146.11,292.45 L147.48,293.15 L148.85,293.83 L150.22,294.49 L151.58,295.12 L152.95,295.73 L154.32,296.32 L155.68,296.90 L157.05,297.45 L158.42,297.99 L159.79,298.51 L161.15,299.02 L162.52,299.51 L163.89,299.99 L165.26,300.46 L166.62,300.91 L167.99,301.35 L169.36,301.77 L170.73,302.19 L172.09,302.59 L173.46,302.98 L174.83,303.36 L176.19,303.74 L177.56,304.10 L178.93,304.45 L180.30,304.79 L181.66,305.13 L183.03,305.46 L184.40,305.78 L185.77,306.09 L187.13,306.39 L188.50,306.69 L189.87,306.98 L191.24,307.26 L192.60,307.53 L193.97,307.80 L195.34,308.07 L196.70,308.32 L198.07,308.58 L199.44,308.82 L200.81,309.06 L202.17,309.30 L203.54,309.53 L204.91,309.75 L206.28,309.97 L207.64,310.19 L209.01,310.40 L210.38,310.61 L211.75,310.81 L213.11,311.01 L214.48,311.20 L215.85,311.39 L217.22,311.58 L218.58,311.76 L219.95,311.94 L221.32,312.12 L222.68,312.29 L224.05,312.46 L225.42,312.62 L226.79,312.79 L228.15,312.95 L229.52,313.10 L230.89,313.26 L232.26,313.41 L233.62,313.55 L234.99,313.70 L236.36,313.84 L237.73,313.98 L239.09,314.12 L240.46,314.25 L241.83,314.39 L243.19,314.52 L244.56,314.64 L245.93,314.77 L247.30,314.89 L248.66,315.01 L250.03,315.13 L251.40,315.25 L252.77,315.37 L254.13,315.48 L255.50,315.59 L256.87,315.70 L258.24,315.81 L259.60,315.91 L260.97,316.02 L262.34,316.12 L263.71,316.22 L265.07,316.32 L266.44,316.42 L267.81,316.52 L269.17,316.61 L270.54,316.70 L271.91,316.80 L273.28,316.89 L274.64,316.98 L276.01,317.06 L277.38,317.15 L278.75,317.23 L280.11,317.32 L281.48,317.40 L282.85,317.48 L284.22,317.56 L285.58,317.64 L286.95,317.72 L288.32,317.80 L289.68,317.87 L291.05,317.95 L292.42,318.02 L293.79,318.09 L295.15,318.16 L296.52,318.23 L297.89,318.30 L299.26,318.37 L300.62,318.44 L301.99,318.50 L303.36,318.57 L304.73,318.63 L306.09,318.70 L307.46,318.76 L308.83,318.82 L310.20,318.88 L311.56,318.94 L312.93,319.00 L314.30,319.06 L315.66,319.12 L317.03,319.18 L318.40,319.23 L319.77,319.29 L321.13,319.34 L322.50,319.40 L323.87,319.45 L325.24,319.50 L326.60,319.56 L327.97,319.61 L329.34,319.66 L330.71,319.71 L332.07,319.76 L333.44,319.81 L334.81,319.86 L336.17,319.90 L337.54,319.95 L338.91,320.00 L340.28,320.04 L341.64,320.09 L343.01,320.13 L344.38,320.18 L345.75,320.22 L347.11,320.27 L348.48,320.31 L349.85,320.35 L351.22,320.39 L352.58,320.43 L353.95,320.48 L355.32,320.52 L356.68,320.56 L358.05,320.60 L359.42,320.63 L360.79,320.67 L362.15,320.71 L363.52,320.75 L364.89,320.79 L366.26,320.82 L367.62,320.86 L368.99,320.89 L370.36,320.93 L371.73,320.97 L373.09,321.00 L374.46,321.03 L375.83,321.07 L377.20,321.10 L378.56,321.14 L379.93,321.17 L381.30,321.20 L382.66,321.23 L384.03,321.27 L385.40,321.30 L386.77,321.33 L388.13,321.36 L389.50,321.39 L390.87,321.42 L392.24,321.45 L393.60,321.48 L394.97,321.51 L396.34,321.54 L397.71,321.57 L399.07,321.59 L400.44,321.62 L401.81,321.65 L403.17,321.68 L404.54,321.70 L405.91,321.73 L407.28,321.76 L408.64,321.78 L410.01,321.81 L411.38,321.84 L412.75,321.86 L414.11,321.89 L415.48,321.91 L416.85,321.94 L418.22,321.96 L419.58,321.99 L420.95,322.01 L422.32,322.03 L423.69,322.06 L425.05,322.08 L426.42,322.10 L427.79,322.13 L429.15,322.15 L430.52,322.17 L431.89,322.20 L433.26,322.22 L434.62,322.24 L435.99,322.26 L437.36,322.28 L438.73,322.30 L440.09,322.33 L441.46,322.35 L442.83,322.37 L444.20,322.39 L445.56,322.41 L446.93,322.43 L448.30,322.45 L449.66,322.47 L451.03,322.49 L452.40,322.51 L453.77,322.53 L455.13,322.54 L456.50,322.56 L457.87,322.58 L459.24,322.60 L460.60,322.62 L461.97,322.64 L463.34,322.66 L464.71,322.67 L466.07,322.69 L467.44,322.71 L468.81,322.73 L470.18,322.74 L471.54,322.76 L472.91,322.78 L474.28,322.79 L475.64,322.81 L477.01,322.83 L478.38,322.84 L479.75,322.86 L481.11,322.88 L482.48,322.89 L483.85,322.91 L485.22,322.92 L486.58,322.94 L487.95,322.95 L489.32,322.97 L490.69,322.99 L492.05,323.00 L493.42,323.02 L494.79,323.03 L496.15,323.04 L497.52,323.06 L498.89,323.07 L500.26,323.09 L501.62,323.10 L502.99,323.12 L504.36,323.13 L505.73,323.14 L507.09,323.16 L508.46,323.17 L509.83,323.19 L511.20,323.20 L512.56,323.21 L513.93,323.23 L515.30,323.24 L516.66,323.25 L518.03,323.26 L519.40,323.28 L520.77,323.29 L522.13,323.30 L523.50,323.31 L524.87,323.33 L526.24,323.34 L527.60,323.35 L528.97,323.36" stroke="#0000ff"/>
<path d="M91.73,198.77 L91.85,199.41 L91.97,200.03 L92.08,200.66 L92.20,201.27 L92.32,201.88 L92.44,202.48 L92.56,203.08 L92.68,203.67 L92.80,204.25 L92.92,204.83 L93.04,205.41 L93.15,205.97 L93.27,206.54 L93.39,207.09 L93.51,207.64 L93.63,208.19 L93.75,208.73 L93.87,209.27 L93.99,209.80 L94.11,210.32 L94.22,210.84 L94.34,211.36 L94.46,211.87 L94.58,212.38 L94.70,212.88 L94.82,213.38 L94.94,213.87 L95.06,214.36 L95.17,214.84 L95.29,215.32 L95.41,215.80 L95.53,216.27 L95.65,216.74 L95.77,217.20 L95.89,217.66 L96.01,218.12 L96.13,218.57 L96.24,219.01 L96.36,219.46 L96.48,219.90 L96.60,220.34 L96.72,220.77 L96.84,221.20 L96.96,221.62 L97.08,222.05 L97.20,222.47 L97.31,222.88 L97.43,223.29 L97.55,223.70 L97.67,224.11 L97.79,224.51 L97.91,224.91 L98.03,225.31 L98.15,225.70 L98.27,226.09 L98.38,226.48 L98.50,226.86 L98.62,227.24 L98.74,227.62 L98.86,227.99 L98.98,228.37 L99.10,228.74 L99.22,229.10 L99.33,229.47 L99.45,229.83 L99.57,230.19 L99.69,230.54 L99.81,230.90 L99.93,231.25 L100.05,231.60 L100.17,231.94 L100.29,232.28 L100.40,232.62 L100.52,232.96 L100.64,233.30 L100.76,233.63 L100.88,233.96 L101.00,234.29 L101.12,234.62 L101.24,234.94 L101.36,235.27 L101.47,235.59 L101.59,235.90 L101.71,236.22 L101.83,236.53 L101.95,236.84 L102.07,237.15 L102.19,237.46 L102.31,237.76 L102.42,238.07 L102.54,238.37 L102.66,238.67 L102.78,238.96 L102.90,239.26 L103.02,239.55 L103.14,239.84 L103.26,240.13 L103.38,240.42 L103.49,240.70 L103.61,240.99 L103.73,241.27 L103.85,241.55 L103.97,241.83 L104.09,242.10 L104.21,242.38 L104.33,242.65 L104.45,242.92 L104.56,243.19 L104.68,243.46 L104.80,243.73 L104.92,243.99 L105.04,244.25 L105.16,244.52 L105.28,244.78 L105.40,245.03 L105.51,245.29 L105.63,245.55 L105.75,245.80 L105.87,246.05 L105.99,246.30 L106.11,246.55 L106.23,246.80 L106.35,247.04 L106.47,247.29 L106.58,247.53 L106.70,247.77 L106.82,248.01 L106.94,248.25 L107.06,248.49 L107.18,248.73 L107.30,248.96 L107.42,249.19 L107.54,249.43 L107.65,249.66 L107.77,249.89 L107.89,250.12 L108.01,250.34 L108.13,250.57 L108.25,250.79 L108.37,251.02 L108.49,251.24 L108.60,251.46 L108.72,251.68 L108.84,251.90 L108.96,252.11 L109.08,252.33 L109.20,252.54 L109.32,252.76 L109.44,252.97 L109.56,253.18 L109.67,253.39 L109.79,253.60 L109.91,253.81 L110.03,254.01 L110.15,254.22 L110.27,254.42 L110.39,254.63 L110.51,254.83 L110.63,255.03 L110.74,255.23 L110.86,255.43 L110.98,255.63 L111.10,255.82 L111.22,256.02 L111.34,256.21 L111.46,256.41 L111.58,256.60 L111.70,256.79 L111.81,256.98 L111.93,257.17 L112.05,257.36 L112.17,257.55 L112.29,257.74 L112.41,257.93 L112.53,258.11 L112.65,258.29 L112.76,258.48 L112.88,258.66 L113.00,258.84 L113.12,259.02 L113.24,259.20 L113.36,259.38 L113.48,259.56 L113.60,259.74 L113.72,259.91 L113.83,260.09 L113.95,260.26 L114.07,260.44 L114.19,260.61 L114.31,260.78 L114.43,260.95 L114.55,261.12 L114.67,261.29 L114.79,261.46 L114.90,261.63 L115.02,261.80 L115.14,261.96 L115.26,262.13 L115.38,262.29 L115.50,262.46 L115.62,262.62 L115.74,262.78 L115.85,262.95 L115.97,263.11 L116.09,263.27 L116.21,263.43 L116.33,263.58 L116.45,263.74 L116.57,263.90 L116.69,264.06 L116.81,264.21 L116.92,264.37 L117.04,264.52 L117.16,264.68 L117.28,264.83 L117.40,264.98 L117.52,265.13 L117.64,265.28 L117.76,265.43 L117.88,265.58 L117.99,265.73 L118.11,265.88 L118.23,266.03 L118.35,266.18 L118.47,266.32 L118.59,266.47 L118.71,266.61 L118.83,266.76 L118.94,266.90 L119.06,267.04 L119.18,267.19 L119.30,267.33 L119.42,267.47 L119.54,267.61 L119.66,267.75 L119.78,267.89 L119.90,268.03 L120.01,268.17 L120.13,268.30 L121.50,269.85 L122.87,271.32 L124.24,272.72 L125.60,274.06 L126.97,275.34 L128.34,276.57 L129.70,277.74 L131.07,278.87 L132.44,279.95 L133.81,280.99 L135.17,281.99 L136.54,282.95 L137.91,283.87 L139.28,284.77 L140.64,285.62 L142.01,286.45 L143.38,287.25 L144.75,288.02 L146.11,288.77 L147.48,289.49 L148.85,290.19 L150.22,290.86 L151.58,291.51 L152.95,292.15 L154.32,292.76 L155.68,293.35 L157.05,293.93 L158.42,294.49 L159.79,295.03 L161.15,295.55 L162.52,296.07 L163.89,296.56 L165.26,297.05 L166.62,297.51 L167.99,297.97 L169.36,298.41 L170.73,298.85 L172.09,299.27 L173.46,299.68 L174.83,300.08 L176.19,300.46 L177.56,300.84 L178.93,301.21 L180.30,301.57 L181.66,301.92 L183.03,302.26 L184.40,302.60 L185.77,302.92 L187.13,303.24 L188.50,303.55 L189.87,303.86 L191.24,304.15 L192.60,304.44 L193.97,304.73 L195.34,305.00 L196.70,305.27 L198.07,305.54 L199.44,305.79 L200.81,306.05 L202.17,306.30 L203.54,306.54 L204.91,306.77 L206.28,307.01 L207.64,307.23 L209.01,307.46 L210.38,307.67 L211.75,307.89 L213.11,308.10 L214.48,308.30 L215.85,308.50 L217.22,308.70 L218.58,308.89 L219.95,309.08 L221.32,309.26 L222.68,309.45 L224.05,309.62 L225.42,309.80 L226.79,309.97 L228.15,310.14 L229.52,310.30 L230.89,310.47 L232.26,310.63 L233.62,310.78 L234.99,310.93 L236.36,311.09 L237.73,311.23 L239.09,311.38 L240.46,311.52 L241.83,311.66 L243.19,311.80 L244.56,311.93 L245.93,312.07 L247.30,312.20 L248.66,312.33 L250.03,312.45 L251.40,312.58 L252.77,312.70 L254.13,312.82 L255.50,312.94 L256.87,313.05 L258.24,313.17 L259.60,313.28 L260.97,313.39 L262.34,313.50 L263.71,313.61 L265.07,313.71 L266.44,313.82 L267.81,313.92 L269.17,314.02 L270.54,314.12 L271.91,314.21 L273.28,314.31 L274.64,314.41 L276.01,314.50 L277.38,314.59 L278.75,314.68 L280.11,314.77 L281.48,314.86 L282.85,314.94 L284.22,315.03 L285.58,315.11 L286.95,315.19 L288.32,315.27 L289.68,315.35 L291.05,315.43 L292.42,315.51 L293.79,315.59 L295.15,315.66 L296.52,315.74 L297.89,315.81 L299.26,315.88 L300.62,315.96 L301.99,316.03 L303.36,316.10 L304.73,316.16 L306.09,316.23 L307.46,316.30 L308.83,316.37 L310.20,316.43 L311.56,316.49 L312.93,316.56 L314.30,316.62 L315.66,316.68 L317.03,316.74 L318.40,316.80 L319.77,316.86 L321.13,316.92 L322.50,316.98 L323.87,317.03 L325.24,317.09 L326.60,317.15 L327.97,317.20 L329.34,317.26 L330.71,317.31 L332.07,317.36 L333.44,317.41 L334.81,317.46 L336.17,317.52 L337.54,317.57 L338.91,317.62 L340.28,317.66 L341.64,317.71 L343.01,317.76 L344.38,317.81 L345.75,317.85 L347.11,317.90 L348.48,317.95 L349.85,317.99 L351.22,318.04 L352.58,318.08 L353.95,318.12 L355.32,318.17 L356.68,318.21 L358.05,318.25 L359.42,318.29 L360.79,318.33 L362.15,318.37 L363.52,318.41 L364.89,318.45 L366.26,318.49 L367.62,318.53 L368.99,318.57 L370.36,318.61 L371.73,318.64 L373.09,318.68 L374.46,318.72 L375.83,318.75 L377.20,318.79 L378.56,318.83 L379.93,318.86 L381.30,318.90 L382.66,318.93 L384.03,318.96 L385.40,319.00 L386.77,319.03 L388.13,319.06 L389.50,319.10 L390.87,319.13 L392.24,319.16 L393.60,319.19 L394.97,319.22 L396.34,319.25 L397.71,319.28 L399.07,319.31 L400.44,319.34 L401.81,319.37 L403.17,319.40 L404.54,319.43 L405.91,319.46 L407.28,319.49 L408.64,319.52 L410.01,319.55 L411.38,319.57 L412.75,319.60 L414.11,319.63 L415.48,319.65 L416.85,319.68 L418.22,319.71 L419.58,319.73 L420.95,319.76 L422.32,319.78 L423.69,319.81 L425.05,319.83 L426.42,319.86 L427.79,319.88 L429.15,319.91 L430.52,319.93 L431.89,319.96 L433.26,319.98 L434.62,320.00 L435.99,320.03 L437.36,320.05 L438.73,320.07 L440.09,320.09 L441.46,320.12 L442.83,320.14 L444.20,320.16 L445.56,320.18 L446.93,320.20 L448.30,320.22 L449.66,320.25 L451.03,320.27 L452.40,320.29 L453.77,320.31 L455.13,320.33 L456.50,320.35 L457.87,320.37 L459.24,320.39 L460.60,320.41 L461.97,320.43 L463.34,320.45 L464.71,320.46 L466.07,320.48 L467.44,320.50 L468.81,320.52 L470.18,320.54 L471.54,320.56 L472.91,320.58 L474.28,320.59 L475.64,320.61 L477.01,320.63 L478.38,320.65 L479.75,320.66 L481.11,320.68 L482.48,320.70 L483.85,320.72 L485.22,320.73 L486.58,320.75 L487.95,320.76 L489.32,320.78 L490.69,320.80 L492.05,320.81 L493.42,320.83 L494.79,320.85 L496.15,320.86 L497.52,320.88 L498.89,320.89 L500.26,320.91 L501.62,320.92 L502.99,320.94 L504.36,320.95 L505.73,320.97 L507.09,320.98 L508.46,321.00 L509.83,321.01 L511.20,321.03 L512.56,321.04 L513.93,321.05 L515.30,321.07 L516.66,321.08 L518.03,321.10 L519.40,321.11 L520.77,321.12 L522.13,321.14 L523.50,321.15 L524.87,321.16 L526.24,321.18 L527.60,321.19 L528.97,321.20" stroke="#ff7f00"/>
<path d="M91.73,180.35 L91.85,181.18 L91.97,182.01 L92.08,182.83 L92.20,183.63 L92.32,184.43 L92.44,185.22 L92.56,186.00 L92.68,186.78 L92.80,187.54 L92.92,188.29 L93.04,189.04 L93.15,189.78 L93.27,190.51 L93.39,191.24 L93.51,191.95 L93.63,192.66 L93.75,193.36 L93.87,194.05 L93.99,194.74 L94.11,195.42 L94.22,196.09 L94.34,196.76 L94.46,197.41 L94.58,198.07 L94.70,198.71 L94.82,199.35 L94.94,199.98 L95.06,200.61 L95.17,201.23 L95.29,201.84 L95.41,202.45 L95.53,203.05 L95.65,203.65 L95.77,204.24 L95.89,204.82 L96.01,205.40 L96.13,205.98 L96.24,206.55 L96.36,207.11 L96.48,207.67 L96.60,208.22 L96.72,208.77 L96.84,209.31 L96.96,209.85 L97.08,210.38 L97.20,210.91 L97.31,211.43 L97.43,211.95 L97.55,212.46 L97.67,212.97 L97.79,213.48 L97.91,213.98 L98.03,214.47 L98.15,214.96 L98.27,215.45 L98.38,215.94 L98.50,216.41 L98.62,216.89 L98.74,217.36 L98.86,217.83 L98.98,218.29 L99.10,218.75 L99.22,219.20 L99.33,219.65 L99.45,220.10 L99.57,220.55 L99.69,220.99 L99.81,221.42 L99.93,221.85 L100.05,222.28 L100.17,222.71 L100.29,223.13 L100.40,223.55 L100.52,223.97 L100.64,224.38 L100.76,224.79 L100.88,225.19 L101.00,225.60 L101.12,226.00 L101.24,226.39 L101.36,226.79 L101.47,227.18 L101.59,227.56 L101.71,227.95 L101.83,228.33 L101.95,228.71 L102.07,229.08 L102.19,229.46 L102.31,229.83 L102.42,230.19 L102.54,230.56 L102.66,230.92 L102.78,231.28 L102.90,231.63 L103.02,231.99 L103.14,232.34 L103.26,232.69 L103.38,233.03 L103.49,233.38 L103.61,233.72 L103.73,234.06 L103.85,234.39 L103.97,234.73 L104.09,235.06 L104.21,235.39 L104.33,235.71 L104.45,236.04 L104.56,236.36 L104.68,236.68 L104.80,237.00 L104.92,237.31 L105.04,237.63 L105.16,237.94 L105.28,238.25 L105.40,238.55 L105.51,238.86 L105.63,239.16 L105.75,239.46 L105.87,239.76 L105.99,240.06 L106.11,240.35 L106.23,240.64 L106.35,240.93 L106.47,241.22 L106.58,241.51 L106.70,241.79 L106.82,242.08 L106.94,242.36 L107.06,242.64 L107.18,242.91 L107.30,243.19 L107.42,243.46 L107.54,243.74 L107.65,244.01 L107.77,244.27 L107.89,244.54 L108.01,244.81 L108.13,245.07 L108.25,245.33 L108.37,245.59 L108.49,245.85 L108.60,246.11 L108.72,246.36 L108.84,246.62 L108.96,246.87 L109.08,247.12 L109.20,247.37 L109.32,247.62 L109.44,247.86 L109.56,248.11 L109.67,248.35 L109.79,248.59 L109.91,248.83 L110.03,249.07 L110.15,249.31 L110.27,249.54 L110.39,249.78 L110.51,250.01 L110.63,250.24 L110.74,250.47 L110.86,250.70 L110.98,250.93 L111.10,251.16 L111.22,251.38 L111.34,251.60 L111.46,251.83 L111.58,252.05 L111.70,252.27 L111.81,252.49 L111.93,252.70 L112.05,252.92 L112.17,253.13 L112.29,253.35 L112.41,253.56 L112.53,253.77 L112.65,253.98 L112.76,254.19 L112.88,254.40 L113.00,254.60 L113.12,254.81 L113.24,255.01 L113.36,255.21 L113.48,255.42 L113.60,255.62 L113.72,255.82 L113.83,256.02 L113.95,256.21 L114.07,256.41 L114.19,256.60 L114.31,256.80 L114.43,256.99 L114.55,257.18 L114.67,257.37 L114.79,257.56 L114.90,257.75 L115.02,257.94 L115.14,258.13 L115.26,258.31 L115.38,258.50 L115.50,258.68 L115.62,258.87 L115.74,259.05 L115.85,259.23 L115.97,259.41 L116.09,259.59 L116.21,259.77 L116.33,259.94 L116.45,260.12 L116.57,260.30 L116.69,260.47 L116.81,260.64 L116.92,260.82 L117.04,260.99 L117.16,261.16 L117.28,261.33 L117.40,261.50 L117.52,261.67 L117.64,261.83 L117.76,262.00 L117.88,262.17 L117.99,262.33 L118.11,262.50 L118.23,262.66 L118.35,262.82 L118.47,262.98 L118.59,263.15 L118.71,263.31 L118.83,263.46 L118.94,263.62 L119.06,263.78 L119.18,263.94 L119.30,264.09 L119.42,264.25 L119.54,264.40 L119.66,264.56 L119.78,264.71 L119.90,264.86 L120.01,265.02 L120.13,265.17 L121.50,266.85 L122.87,268.45 L124.24,269.97 L125.60,271.41 L126.97,272.78 L128.34,274.08 L129.70,275.33 L131.07,276.51 L132.44,277.65 L133.81,278.73 L135.17,279.77 L136.54,280.76 L137.91,281.71 L139.28,282.63 L140.64,283.50 L142.01,284.35 L143.38,285.16 L144.75,285.94 L146.11,286.69 L147.48,287.41 L148.85,288.11 L150.22,288.78 L151.58,289.43 L152.95,290.05 L154.32,290.66 L155.68,291.24 L157.05,291.81 L158.42,292.36 L159.79,292.89 L161.15,293.40 L162.52,293.90 L163.89,294.38 L165.26,294.84 L166.62,295.30 L167.99,295.74 L169.36,296.16 L170.73,296.58 L172.09,296.98 L173.46,297.37 L174.83,297.75 L176.19,298.12 L177.56,298.48 L178.93,298.83 L180.30,299.17 L181.66,299.50 L183.03,299.82 L184.40,300.14 L185.77,300.44 L187.13,300.74 L188.50,301.03 L189.87,301.32 L191.24,301.59 L192.60,301.86 L193.97,302.12 L195.34,302.38 L196.70,302.63 L198.07,302.88 L199.44,303.12 L200.81,303.35 L202.17,303.58 L203.54,303.80 L204.91,304.02 L206.28,304.23 L207.64,304.44 L209.01,304.65 L210.38,304.85 L211.75,305.04 L213.11,305.23 L214.48,305.42 L215.85,305.60 L217.22,305.78 L218.58,305.96 L219.95,306.13 L221.32,306.30 L222.68,306.46 L224.05,306.62 L225.42,306.78 L226.79,306.94 L228.15,307.09 L229.52,307.24 L230.89,307.39 L232.26,307.53 L233.62,307.67 L234.99,307.81 L236.36,307.95 L237.73,308.08 L239.09,308.21 L240.46,308.34 L241.83,308.46 L243.19,308.59 L244.56,308.71 L245.93,308.83 L247.30,308.94 L248.66,309.06 L250.03,309.17 L251.40,309.28 L252.77,309.39 L254.13,309.50 L255.50,309.60 L256.87,309.71 L258.24,309.81 L259.60,309.91 L260.97,310.01 L262.34,310.11 L263.71,310.20 L265.07,310.29 L266.44,310.39 L267.81,310.48 L269.17,310.57 L270.54,310.65 L271.91,310.74 L273.28,310.82 L274.64,310.91 L276.01,310.99 L277.38,311.07 L278.75,311.15 L280.11,311.23 L281.48,311.31 L282.85,311.38 L284.22,311.46 L285.58,311.53 L286.95,311.60 L288.32,311.68 L289.68,311.75 L291.05,311.82 L292.42,311.88 L293.79,311.95 L295.15,312.02 L296.52,312.08 L297.89,312.15 L299.26,312.21 L300.62,312.28 L301.99,312.34 L303.36,312.40 L304.73,312.46 L306.09,312.52 L307.46,312.58 L308.83,312.63 L310.20,312.69 L311.56,312.75 L312.93,312.80 L314.30,312.86 L315.66,312.91 L317.03,312.96 L318.40,313.02 L319.77,313.07 L321.13,313.12 L322.50,313.17 L323.87,313.22 L325.24,313.27 L326.60,313.32 L327.97,313.36 L329.34,313.41 L330.71,313.46 L332.07,313.50 L333.44,313.55 L334.81,313.59 L336.17,313.64 L337.54,313.68 L338.91,313.73 L340.28,313.77 L341.64,313.81 L343.01,313.85 L344.38,313.89 L345.75,313.93 L347.11,313.97 L348.48,314.01 L349.85,314.05 L351.22,314.09 L352.58,314.13 L353.95,314.17 L355.32,314.20 L356.68,314.24 L358.05,314.28 L359.42,314.31 L360.79,314.35 L362.15,314.38 L363.52,314.42 L364.89,314.45 L366.26,314.49 L367.62,314.52 L368.99,314.55 L370.36,314.59 L371.73,314.62 L373.09,314.65 L374.46,314.68 L375.83,314.71 L377.20,314.75 L378.56,314.78 L379.93,314.81 L381.30,314.84 L382.66,314.87 L384.03,314.90 L385.40,314.92 L386.77,314.95 L388.13,314.98 L389.50,315.01 L390.87,315.04 L392.24,315.06 L393.60,315.09 L394.97,315.12 L396.34,315.15 L397.71,315.17 L399.07,315.20 L400.44,315.22 L401.81,315.25 L403.17,315.27 L404.54,315.30 L405.91,315.32 L407.28,315.35 L408.64,315.37 L410.01,315.40 L411.38,315.42 L412.75,315.44 L414.11,315.47 L415.48,315.49 L416.85,315.51 L418.22,315.54 L419.58,315.56 L420.95,315.58 L422.32,315.60 L423.69,315.62 L425.05,315.65 L426.42,315.67 L427.79,315.69 L429.15,315.71 L430.52,315.73 L431.89,315.75 L433.26,315.77 L434.62,315.79 L435.99,315.81 L437.36,315.83 L438.73,315.85 L440.09,315.87 L441.46,315.89 L442.83,315.91 L444.20,315.93 L445.56,315.94 L446.93,315.96 L448.30,315.98 L449.66,316.00 L451.03,316.02 L452.40,316.03 L453.77,316.05 L455.13,316.07 L456.50,316.09 L457.87,316.10 L459.24,316.12 L460.60,316.14 L461.97,316.15 L463.34,316.17 L464.71,316.19 L466.07,316.20 L467.44,316.22 L468.81,316.24 L470.18,316.25 L471.54,316.27 L472.91,316.28 L474.28,316.30 L475.64,316.31 L477.01,316.33 L478.38,316.34 L479.75,316.36 L481.11,316.37 L482.48,316.39 L483.85,316.40 L485.22,316.42 L486.58,316.43 L487.95,316.44 L489.32,316.46 L490.69,316.47 L492.05,316.49 L493.42,316.50 L494.79,316.51 L496.15,316.53 L497.52,316.54 L498.89,316.55 L500.26,316.57 L501.62,316.58 L502.99,316.59 L504.36,316.60 L505.73,316.62 L507.09,316.63 L508.46,316.64 L509.83,316.65 L511.20,316.67 L512.56,316.68 L513.93,316.69 L515.30,316.70 L516.66,316.71 L518.03,316.73 L519.40,316.74 L520.77,316.75 L522.13,316.76 L523.50,316.77 L524.87,316.78 L526.24,316.80 L527.60,316.81 L528.97,316.82" stroke="#808080"/>
</g>
<text x="9.6" y="27.1" font-size="17">(a)</text>
<text x="80.5" y="28.0" font-size="20.3" font-weight="bold" text-anchor="end">2.7</text>
<text x="80.5" y="91.8" font-size="20.3" font-weight="bold" text-anchor="end">2.5</text>
<text x="80.5" y="155.5" font-size="20.3" font-weight="bold" text-anchor="end">2.3</text>
<text x="80.5" y="219.2" font-size="20.3" font-weight="bold" text-anchor="end">2.1</text>
<text x="80.5" y="283.0" font-size="20.3" font-weight="bold" text-anchor="end">1.9</text>
<text x="80.5" y="346.8" font-size="20.3" font-weight="bold" text-anchor="end">1.7</text>
<text x="80.5" y="410.5" font-size="20.3" font-weight="bold" text-anchor="end">1.5</text>
<text x="91.7" y="463.8" font-size="20.3" font-weight="bold" text-anchor="middle">200</text>
<text x="164.5" y="463.8" font-size="20.3" font-weight="bold" text-anchor="middle">350</text>
<text x="237.4" y="463.8" font-size="20.3" font-weight="bold" text-anchor="middle">500</text>
<text x="310.2" y="463.8" font-size="20.3" font-weight="bold" text-anchor="middle">650</text>
<text x="383.0" y="463.8" font-size="20.3" font-weight="bold" text-anchor="middle">800</text>
<text x="455.9" y="463.8" font-size="20.3" font-weight="bold" text-anchor="middle">950</text>
<text x="528.7" y="463.8" font-size="20.3" font-weight="bold" text-anchor="middle">1100</text>
<text x="310.2" y="498.2" font-size="20.6" font-weight="bold" text-anchor="middle">Wavelength [nm]</text>
<text transform="translate(35.2,221.8) rotate(-90)" font-size="20.5" font-weight="bold" text-anchor="middle">Refractive index</text>
<rect x="358.5" y="29.5" width="163" height="116" fill="#fff" stroke="#b4b4b4" stroke-width="1"/>
<line x1="360.3" y1="38.5" x2="387.3" y2="38.5" stroke="#000000" stroke-width="3" stroke-linecap="round"/>
<text x="391.5" y="42.7" font-size="12.4" font-weight="bold">SiO<tspan font-size="9" dy="3.1">2</tspan><tspan dy="-3.1">=3016 Cycles</tspan></text>
<line x1="360.3" y1="57" x2="387.3" y2="57" stroke="#ff0000" stroke-width="3" stroke-linecap="round"/>
<text x="391.5" y="61.2" font-size="12.4" font-weight="bold">HfO<tspan font-size="9" dy="3.1">2</tspan><tspan dy="-3.1">=1524 Cycles</tspan></text>
<line x1="360.3" y1="75.5" x2="387.3" y2="75.5" stroke="#00ffff" stroke-width="3" stroke-linecap="round"/>
<text x="391.5" y="79.7" font-size="12.4" font-weight="bold">SiO<tspan font-size="12.4" dy="3.4">2</tspan><tspan dy="-3.4">:HfO</tspan><tspan font-size="12.4" dy="3.4">2</tspan><tspan dy="-3.4">=[2:2]*615</tspan></text>
<line x1="360.3" y1="95" x2="387.3" y2="95" stroke="#0000ff" stroke-width="3" stroke-linecap="round"/>
<text x="391.5" y="99.2" font-size="12.4" font-weight="bold">SiO<tspan font-size="12.4" dy="3.4">2</tspan><tspan dy="-3.4">:HfO</tspan><tspan font-size="12.4" dy="3.4">2</tspan><tspan dy="-3.4">=[4:4]*315</tspan></text>
<line x1="360.3" y1="114.3" x2="387.3" y2="114.3" stroke="#ff7f00" stroke-width="3" stroke-linecap="round"/>
<text x="391.5" y="118.5" font-size="12.4" font-weight="bold">SiO<tspan font-size="12.4" dy="3.4">2</tspan><tspan dy="-3.4">:HfO</tspan><tspan font-size="12.4" dy="3.4">2</tspan><tspan dy="-3.4">=[8:8]*145</tspan></text>
<line x1="360.3" y1="133.5" x2="387.3" y2="133.5" stroke="#808080" stroke-width="3" stroke-linecap="round"/>
<text x="391.5" y="137.7" font-size="12.4" font-weight="bold">SiO<tspan font-size="12.4" dy="3.4">2</tspan><tspan dy="-3.4">:HfO</tspan><tspan font-size="12.4" dy="3.4">2</tspan><tspan dy="-3.4">=[16:16]*72</tspan></text>
<line x1="619" y1="23" x2="1042.5" y2="23" stroke="#2a2a2a" stroke-width="1"/>
<line x1="619" y1="436" x2="1042.5" y2="436" stroke="#2a2a2a" stroke-width="1"/>
<line x1="625" y1="22.5" x2="625" y2="442" stroke="#2a2a2a" stroke-width="1"/>
<line x1="1042.5" y1="22.5" x2="1042.5" y2="442" stroke="#000" stroke-width="1"/>
<line x1="677.5" y1="436" x2="677.5" y2="439" stroke="#222" stroke-width="1"/>
<line x1="729.5" y1="436" x2="729.5" y2="442" stroke="#222" stroke-width="1"/>
<line x1="781.5" y1="436" x2="781.5" y2="439" stroke="#222" stroke-width="1"/>
<line x1="833.5" y1="436" x2="833.5" y2="442" stroke="#222" stroke-width="1"/>
<line x1="885.5" y1="436" x2="885.5" y2="439" stroke="#222" stroke-width="1"/>
<line x1="937.5" y1="436" x2="937.5" y2="442" stroke="#222" stroke-width="1"/>
<line x1="989.5" y1="436" x2="989.5" y2="439" stroke="#222" stroke-width="1"/>
<line x1="666.5" y1="23" x2="666.5" y2="26" stroke="#222" stroke-width="1"/>
<line x1="708.5" y1="23" x2="708.5" y2="29" stroke="#222" stroke-width="1"/>
<line x1="750.5" y1="23" x2="750.5" y2="26" stroke="#222" stroke-width="1"/>
<line x1="791.5" y1="23" x2="791.5" y2="29" stroke="#222" stroke-width="1"/>
<line x1="833.5" y1="23" x2="833.5" y2="26" stroke="#222" stroke-width="1"/>
<line x1="875.5" y1="23" x2="875.5" y2="29" stroke="#222" stroke-width="1"/>
<line x1="916.5" y1="23" x2="916.5" y2="26" stroke="#222" stroke-width="1"/>
<line x1="958.5" y1="23" x2="958.5" y2="29" stroke="#222" stroke-width="1"/>
<line x1="1000.5" y1="23" x2="1000.5" y2="26" stroke="#222" stroke-width="1"/>
<line x1="622" y1="91.8" x2="625" y2="91.8" stroke="#222" stroke-width="1"/>
<line x1="619" y1="160.7" x2="625" y2="160.7" stroke="#222" stroke-width="1"/>
<line x1="622" y1="229.5" x2="625" y2="229.5" stroke="#222" stroke-width="1"/>
<line x1="619" y1="298.3" x2="625" y2="298.3" stroke="#222" stroke-width="1"/>
<line x1="622" y1="367.2" x2="625" y2="367.2" stroke="#222" stroke-width="1"/>
<line x1="1039" y1="64.5" x2="1042" y2="64.5" stroke="#222" stroke-width="1"/>
<line x1="1036" y1="105.5" x2="1042" y2="105.5" stroke="#222" stroke-width="1"/>
<line x1="1039" y1="146.5" x2="1042" y2="146.5" stroke="#222" stroke-width="1"/>
<line x1="1036" y1="188.5" x2="1042" y2="188.5" stroke="#222" stroke-width="1"/>
<line x1="1039" y1="229.5" x2="1042" y2="229.5" stroke="#222" stroke-width="1"/>
<line x1="1036" y1="270.5" x2="1042" y2="270.5" stroke="#222" stroke-width="1"/>
<line x1="1039" y1="312.5" x2="1042" y2="312.5" stroke="#222" stroke-width="1"/>
<line x1="1036" y1="353.5" x2="1042" y2="353.5" stroke="#222" stroke-width="1"/>
<line x1="1039" y1="394.5" x2="1042" y2="394.5" stroke="#222" stroke-width="1"/>
<g clip-path="url(#cb)" fill="none" stroke-width="3.0" stroke-linejoin="round">
<path d="M625.60,78.73 L626.10,81.70 L626.59,84.58 L627.09,87.40 L627.58,90.17 L628.08,92.89 L628.58,95.57 L629.07,98.21 L629.57,100.81 L630.06,103.38 L630.56,105.93 L631.06,108.44 L631.55,110.92 L632.05,113.38 L632.54,115.81 L633.04,118.21 L633.54,120.59 L634.03,122.95 L634.53,125.28 L635.02,127.59 L635.52,129.88 L636.02,132.14 L636.51,134.39 L637.01,136.61 L637.50,138.82 L638.00,141.00 L638.50,143.17 L638.99,145.31 L639.49,147.44 L639.98,149.54 L640.48,151.63 L640.98,153.71 L641.47,155.76 L641.97,157.80 L642.46,159.81 L642.96,161.82 L643.46,163.80 L643.95,165.77 L644.45,167.72 L644.94,169.66 L645.44,171.58 L645.94,173.48 L646.43,175.37 L646.93,177.25 L647.42,179.11 L647.92,180.95 L648.42,182.78 L648.91,184.59 L649.41,186.39 L649.90,188.18 L650.40,189.95 L650.90,191.71 L651.39,193.45 L651.89,195.18 L652.38,196.90 L652.88,198.60 L653.38,200.29 L653.87,201.97 L654.37,203.63 L654.86,205.29 L655.36,206.92 L655.86,208.55 L656.35,210.16 L656.85,211.77 L657.34,213.35 L657.84,214.93 L658.34,216.50 L658.83,218.05 L659.33,219.59 L659.82,221.12 L660.32,222.64 L660.82,224.15 L661.31,225.64 L661.81,227.13 L662.30,228.60 L662.80,230.06 L663.30,231.51 L663.79,232.95 L664.29,234.38 L664.78,235.80 L665.28,237.21 L665.78,238.61 L666.27,240.00 L666.77,241.38 L667.26,242.75 L667.76,244.10 L668.26,245.45 L668.75,246.79 L669.25,248.12 L669.74,249.44 L670.24,250.74 L670.74,252.04 L671.23,253.33 L671.73,254.61 L672.22,255.89 L672.72,257.15 L673.22,258.40 L673.71,259.64 L674.21,260.88 L674.70,262.10 L675.20,263.32 L675.70,264.53 L676.19,265.73 L676.69,266.92 L677.18,268.10 L677.68,269.28 L678.18,270.44 L678.67,271.60 L679.17,272.75 L679.66,273.89 L680.16,275.02 L680.66,276.14 L681.15,277.26 L681.65,278.37 L682.14,279.47 L682.64,280.56 L683.14,281.65 L683.63,282.73 L684.13,283.79 L684.62,284.86 L685.12,285.91 L685.62,286.96 L686.11,288.00 L686.61,289.03 L687.10,290.06 L687.60,291.07 L688.10,292.08 L688.59,293.09 L689.09,294.08 L689.58,295.07 L690.08,296.06 L690.58,297.03 L691.07,298.00 L691.57,298.96 L692.06,299.92 L692.56,300.87 L693.06,301.81 L693.55,302.74 L694.05,303.67 L694.54,304.59 L695.04,305.51 L695.54,306.42 L696.03,307.32 L696.53,308.22 L697.02,309.11 L697.52,310.00 L698.02,310.87 L698.51,311.75 L699.01,312.61 L699.50,313.47 L700.00,314.33 L701.00,316.03 L702.00,317.71 L703.00,319.37 L704.00,321.00 L705.00,322.62 L706.00,324.20 L707.00,325.77 L708.00,327.32 L709.00,328.84 L710.00,330.35 L711.00,331.83 L712.00,333.29 L713.00,334.73 L714.00,336.16 L715.00,337.56 L716.00,338.94 L717.00,340.31 L718.00,341.65 L719.00,342.98 L720.00,344.29 L721.00,345.58 L722.00,346.86 L723.00,348.11 L724.00,349.35 L725.00,350.58 L726.00,351.78 L727.00,352.97 L728.00,354.15 L729.00,355.30 L730.00,356.45 L731.00,357.57 L732.00,358.69 L733.00,359.78 L734.00,360.86 L735.00,361.93 L736.00,362.98 L737.00,364.02 L738.00,365.05 L739.00,366.06 L740.00,367.05 L741.00,368.04 L742.00,369.01 L743.00,369.97 L744.00,370.91 L745.00,371.84 L746.00,372.76 L747.00,373.67 L748.00,374.57 L749.00,375.45 L750.00,376.32 L751.00,377.18 L752.00,378.03 L753.00,378.86 L754.00,379.69 L755.00,380.51 L756.00,381.31 L757.00,382.10 L758.00,382.89 L759.00,383.66 L760.00,384.42 L761.00,385.17 L762.00,385.91 L763.00,386.65 L764.00,387.37 L765.00,388.08 L766.00,388.78 L767.00,389.48 L768.00,390.16 L769.00,390.84 L770.00,391.51 L771.00,392.16 L772.00,392.81 L773.00,393.45 L774.00,394.09 L775.00,394.71 L776.00,395.33 L777.00,395.93 L778.00,396.53 L779.00,397.13 L780.00,397.71 L781.00,398.29 L782.00,398.85 L783.00,399.42 L784.00,399.97 L785.00,400.52 L786.00,401.06 L787.00,401.59 L788.00,402.11 L789.00,402.63 L790.00,403.14 L791.00,403.65 L792.00,404.15 L793.00,404.64 L794.00,405.13 L795.00,405.60 L796.00,406.08 L797.00,406.54 L798.00,407.00 L799.00,407.46 L800.00,407.91 L801.00,408.35 L802.00,408.79 L803.00,409.22 L804.00,409.64 L805.00,410.06 L806.00,410.48 L807.00,410.89 L808.00,411.29 L809.00,411.69 L810.00,412.08 L811.00,412.47 L812.00,412.86 L813.00,413.24 L814.00,413.61 L815.00,413.98 L816.00,414.34 L817.00,414.70 L818.00,415.05 L819.00,415.40 L820.00,415.75 L821.00,416.09 L822.00,416.43 L823.00,416.76 L824.00,417.09 L825.00,417.41 L826.00,417.73 L827.00,418.05 L828.00,418.36 L829.00,418.66 L830.00,418.97 L831.00,419.27 L832.00,419.56 L833.00,419.85 L834.00,420.14 L835.00,420.43 L836.00,420.71 L837.00,420.98 L838.00,421.26 L839.00,421.53 L840.00,421.79 L841.00,422.06 L842.00,422.31 L843.00,422.57 L844.00,422.82 L845.00,423.07 L846.00,423.32 L847.00,423.56 L848.00,423.80 L849.00,424.04 L850.00,424.27 L851.00,424.51 L852.00,424.73 L853.00,424.96 L854.00,425.18 L855.00,425.40 L856.00,425.62 L857.00,425.83 L858.00,426.04 L859.00,426.25 L860.00,426.46 L861.00,426.66 L862.00,426.86 L863.00,427.06 L864.00,427.25 L865.00,427.45 L866.00,427.64 L867.00,427.82 L868.00,428.01 L869.00,428.19 L870.00,428.37 L871.00,428.55 L872.00,428.73 L873.00,428.90 L874.00,429.07 L875.00,429.24 L876.00,429.41 L877.00,429.58 L878.00,429.74 L879.00,429.90 L880.00,430.06 L881.00,430.22 L882.00,430.37 L883.00,430.52 L884.00,430.68 L885.00,430.82 L886.00,430.97 L887.00,431.12 L888.00,431.26 L889.00,431.40 L890.00,431.54 L891.00,431.68 L892.00,431.82 L893.00,431.95 L894.00,432.08 L895.00,432.22 L896.00,432.35 L897.00,432.47 L898.00,432.60 L899.00,432.72 L900.00,432.85 L901.00,432.97 L902.00,433.09 L903.00,433.21 L904.00,433.33 L905.00,433.44 L906.00,433.55 L907.00,433.67 L908.00,433.78 L909.00,433.89 L910.00,434.00 L911.00,434.10 L912.00,434.21 L913.00,434.31 L914.00,434.42 L915.00,434.52 L916.00,434.62 L917.00,434.72 L918.00,434.82 L919.00,434.91 L920.00,435.01 L921.00,435.10 L922.00,435.20 L923.00,435.29 L924.00,435.38 L925.00,435.47 L926.00,435.56 L927.00,435.64 L928.00,435.73 L929.00,435.82 L930.00,435.90 L931.00,435.98 L932.00,436.06 L933.00,436.15 L934.00,436.23 L935.00,436.30 L936.00,436.38 L937.00,436.46 L938.00,436.53 L939.00,436.61 L940.00,436.68 L941.00,436.76 L942.00,436.83 L943.00,436.90 L944.00,436.97 L945.00,437.04 L946.00,437.11 L947.00,437.18 L948.00,437.20 L949.00,437.20 L950.00,437.20 L951.00,437.20 L952.00,437.20 L953.00,437.20 L954.00,437.20 L955.00,437.20 L956.00,437.20 L957.00,437.20 L958.00,437.20 L959.00,437.20 L960.00,437.20 L961.00,437.20 L962.00,437.20 L963.00,437.20 L964.00,437.20 L965.00,437.20 L966.00,437.20 L967.00,437.20 L968.00,437.20 L969.00,437.20 L970.00,437.20 L971.00,437.20 L972.00,437.20 L973.00,437.20 L974.00,437.20 L975.00,437.20 L976.00,437.20 L977.00,437.20 L978.00,437.20 L979.00,437.20 L980.00,437.20 L981.00,437.20 L982.00,437.20 L983.00,437.20 L984.00,437.20 L985.00,437.20 L986.00,437.20 L987.00,437.20 L988.00,437.20 L989.00,437.20 L990.00,437.20 L991.00,437.20 L992.00,437.20 L993.00,437.20 L994.00,437.20 L995.00,437.20 L996.00,437.20 L997.00,437.20 L998.00,437.20 L999.00,437.20 L1000.00,437.20 L1001.00,437.20 L1002.00,437.20 L1003.00,437.20 L1004.00,437.20 L1005.00,437.20 L1006.00,437.20 L1007.00,437.20 L1008.00,437.20 L1009.00,437.20 L1010.00,437.20 L1011.00,437.20 L1012.00,437.20 L1013.00,437.20 L1014.00,437.20 L1015.00,437.20 L1016.00,437.20 L1017.00,437.20 L1018.00,437.20 L1019.00,437.20 L1020.00,437.20 L1021.00,437.20 L1022.00,437.20 L1023.00,437.20 L1024.00,437.20 L1025.00,437.20 L1026.00,437.20 L1027.00,437.20 L1028.00,437.20 L1029.00,437.20 L1030.00,437.20 L1031.00,437.20 L1032.00,437.20 L1033.00,437.20 L1034.00,437.20 L1035.00,437.20 L1036.00,437.20 L1037.00,437.20 L1038.00,437.20 L1039.00,437.20 L1040.00,437.20 L1041.00,437.20 L1042.00,437.20 L1043.00,437.20" stroke="#ff0000"/>
<path d="M625.60,307.84 L626.10,308.30 L626.59,308.83 L627.09,309.42 L627.58,310.04 L628.08,310.69 L628.58,311.37 L629.07,312.08 L629.57,312.80 L630.06,313.55 L630.56,314.31 L631.06,315.09 L631.55,315.88 L632.05,316.68 L632.54,317.49 L633.04,318.32 L633.54,319.15 L634.03,319.99 L634.53,320.84 L635.02,321.69 L635.52,322.55 L636.02,323.41 L636.51,324.28 L637.01,325.15 L637.50,326.03 L638.00,326.91 L638.50,327.79 L638.99,328.67 L639.49,329.55 L639.98,330.43 L640.48,331.32 L640.98,332.20 L641.47,333.09 L641.97,333.97 L642.46,334.85 L642.96,335.74 L643.46,336.62 L643.95,337.50 L644.45,338.38 L644.94,339.25 L645.44,340.12 L645.94,340.99 L646.43,341.86 L646.93,342.73 L647.42,343.59 L647.92,344.45 L648.42,345.31 L648.91,346.16 L649.41,347.01 L649.90,347.85 L650.40,348.69 L650.90,349.53 L651.39,350.36 L651.89,351.19 L652.38,352.01 L652.88,352.83 L653.38,353.64 L653.87,354.45 L654.37,355.26 L654.86,356.06 L655.36,356.85 L655.86,357.64 L656.35,358.43 L656.85,359.21 L657.34,359.98 L657.84,360.75 L658.34,361.51 L658.83,362.27 L659.33,363.02 L659.82,363.77 L660.32,364.51 L660.82,365.25 L661.31,365.98 L661.81,366.70 L662.30,367.42 L662.80,368.13 L663.30,368.84 L663.79,369.54 L664.29,370.24 L664.78,370.93 L665.28,371.61 L665.78,372.29 L666.27,372.96 L666.77,373.63 L667.26,374.29 L667.76,374.94 L668.26,375.59 L668.75,376.24 L669.25,376.87 L669.74,377.50 L670.24,378.13 L670.74,378.75 L671.23,379.36 L671.73,379.97 L672.22,380.57 L672.72,381.17 L673.22,381.76 L673.71,382.35 L674.21,382.92 L674.70,383.50 L675.20,384.07 L675.70,384.63 L676.19,385.18 L676.69,385.73 L677.18,386.28 L677.68,386.82 L678.18,387.35 L678.67,387.88 L679.17,388.40 L679.66,388.92 L680.16,389.43 L680.66,389.94 L681.15,390.44 L681.65,390.93 L682.14,391.42 L682.64,391.91 L683.14,392.39 L683.63,392.86 L684.13,393.33 L684.62,393.79 L685.12,394.25 L685.62,394.70 L686.11,395.15 L686.61,395.60 L687.10,396.03 L687.60,396.47 L688.10,396.89 L688.59,397.32 L689.09,397.74 L689.58,398.15 L690.08,398.56 L690.58,398.96 L691.07,399.36 L691.57,399.75 L692.06,400.14 L692.56,400.53 L693.06,400.91 L693.55,401.28 L694.05,401.66 L694.54,402.02 L695.04,402.38 L695.54,402.74 L696.03,403.10 L696.53,403.44 L697.02,403.79 L697.52,404.13 L698.02,404.47 L698.51,404.80 L699.01,405.13 L699.50,405.45 L700.00,405.77 L701.00,406.40 L702.00,407.02 L703.00,407.62 L704.00,408.21 L705.00,408.78 L706.00,409.33 L707.00,409.87 L708.00,410.40 L709.00,410.91 L710.00,411.41 L711.00,411.89 L712.00,412.37 L713.00,412.83 L714.00,413.27 L715.00,413.71 L716.00,414.13 L717.00,414.54 L718.00,414.94 L719.00,415.33 L720.00,415.71 L721.00,416.08 L722.00,416.43 L723.00,416.78 L724.00,417.12 L725.00,417.44 L726.00,417.76 L727.00,418.07 L728.00,418.37 L729.00,418.66 L730.00,418.94 L731.00,419.22 L732.00,419.48 L733.00,419.74 L734.00,419.99 L735.00,420.23 L736.00,420.47 L737.00,420.70 L738.00,420.92 L739.00,421.14 L740.00,421.34 L741.00,421.55 L742.00,421.74 L743.00,421.93 L744.00,422.12 L745.00,422.30 L746.00,422.47 L747.00,422.64 L748.00,422.80 L749.00,422.96 L750.00,423.11 L751.00,423.26 L752.00,423.40 L753.00,423.54 L754.00,423.67 L755.00,423.80 L756.00,423.93 L757.00,424.05 L758.00,424.17 L759.00,424.28 L760.00,424.39 L761.00,424.50 L762.00,424.60 L763.00,424.70 L764.00,424.80 L765.00,424.89 L766.00,424.99 L767.00,425.07 L768.00,425.16 L769.00,425.24 L770.00,425.32 L771.00,425.40 L772.00,425.47 L773.00,425.54 L774.00,425.61 L775.00,425.68 L776.00,425.75 L777.00,425.81 L778.00,425.87 L779.00,425.93 L780.00,425.99 L781.00,426.04 L782.00,426.09 L783.00,426.14 L784.00,426.19 L785.00,426.24 L786.00,426.29 L787.00,426.33 L788.00,426.38 L789.00,426.42 L790.00,426.46 L791.00,426.50 L792.00,426.54 L793.00,426.57 L794.00,426.61 L795.00,426.64 L796.00,426.68 L797.00,426.71 L798.00,426.74 L799.00,426.77 L800.00,426.80 L801.00,426.83 L802.00,426.86 L803.00,426.88 L804.00,426.91 L805.00,426.93 L806.00,426.96 L807.00,426.98 L808.00,427.00 L809.00,427.03 L810.00,427.05 L811.00,427.07 L812.00,427.09 L813.00,427.11 L814.00,427.13 L815.00,427.15 L816.00,427.16 L817.00,427.18 L818.00,427.20 L819.00,427.22 L820.00,427.23 L821.00,427.25 L822.00,427.26 L823.00,427.28 L824.00,427.29 L825.00,427.31 L826.00,427.32 L827.00,427.33 L828.00,427.35 L829.00,427.36 L830.00,427.37 L831.00,427.39 L832.00,427.40 L833.00,427.41 L834.00,427.42 L835.00,427.44 L836.00,427.45 L837.00,427.46 L838.00,427.47 L839.00,427.48 L840.00,427.49 L841.00,427.50 L842.00,427.51 L843.00,427.53 L844.00,427.54 L845.00,427.55 L846.00,427.56 L847.00,427.57 L848.00,427.58 L849.00,427.59 L850.00,427.60 L851.00,427.61 L852.00,427.62 L853.00,427.63 L854.00,427.64 L855.00,427.65 L856.00,427.66 L857.00,427.67 L858.00,427.68 L859.00,427.69 L860.00,427.71 L861.00,427.72 L862.00,427.73 L863.00,427.74 L864.00,427.75 L865.00,427.76 L866.00,427.77 L867.00,427.78 L868.00,427.79 L869.00,427.81 L870.00,427.82 L871.00,427.83 L872.00,427.84 L873.00,427.85 L874.00,427.87 L875.00,427.88 L876.00,427.89 L877.00,427.90 L878.00,427.92 L879.00,427.93 L880.00,427.94 L881.00,427.96 L882.00,427.97 L883.00,427.98 L884.00,428.00 L885.00,428.01 L886.00,428.03 L887.00,428.04 L888.00,428.06 L889.00,428.07 L890.00,428.09 L891.00,428.10 L892.00,428.12 L893.00,428.14 L894.00,428.15 L895.00,428.17 L896.00,428.19 L897.00,428.20 L898.00,428.22 L899.00,428.24 L900.00,428.26 L901.00,428.28 L902.00,428.29 L903.00,428.31 L904.00,428.33 L905.00,428.35 L906.00,428.37 L907.00,428.39 L908.00,428.41 L909.00,428.43 L910.00,428.46 L911.00,428.48 L912.00,428.50 L913.00,428.52 L914.00,428.54 L915.00,428.57 L916.00,428.59 L917.00,428.61 L918.00,428.64 L919.00,428.66 L920.00,428.69 L921.00,428.71 L922.00,428.74 L923.00,428.76 L924.00,428.79 L925.00,428.81 L926.00,428.84 L927.00,428.87 L928.00,428.90 L929.00,428.92 L930.00,428.95 L931.00,428.98 L932.00,429.01 L933.00,429.04 L934.00,429.07 L935.00,429.10 L936.00,429.13 L937.00,429.16 L938.00,429.19 L939.00,429.22 L940.00,429.26 L941.00,429.29 L942.00,429.32 L943.00,429.36 L944.00,429.39 L945.00,429.42 L946.00,429.46 L947.00,429.49 L948.00,429.53 L949.00,429.56 L950.00,429.60 L951.00,429.64 L952.00,429.67 L953.00,429.71 L954.00,429.75 L955.00,429.79 L956.00,429.83 L957.00,429.87 L958.00,429.90 L959.00,429.94 L960.00,429.98 L961.00,430.02 L962.00,430.07 L963.00,430.11 L964.00,430.15 L965.00,430.19 L966.00,430.23 L967.00,430.28 L968.00,430.32 L969.00,430.36 L970.00,430.41 L971.00,430.45 L972.00,430.49 L973.00,430.54 L974.00,430.58 L975.00,430.63 L976.00,430.68 L977.00,430.72 L978.00,430.77 L979.00,430.82 L980.00,430.86 L981.00,430.91 L982.00,430.96 L983.00,431.00 L984.00,431.05 L985.00,431.10 L986.00,431.15 L987.00,431.20 L988.00,431.25 L989.00,431.30 L990.00,431.35 L991.00,431.40 L992.00,431.45 L993.00,431.50 L994.00,431.55 L995.00,431.60 L996.00,431.65 L997.00,431.70 L998.00,431.75 L999.00,431.80 L1000.00,431.85 L1001.00,431.90 L1002.00,431.95 L1003.00,432.01 L1004.00,432.06 L1005.00,432.11 L1006.00,432.16 L1007.00,432.21 L1008.00,432.26 L1009.00,432.32 L1010.00,432.37 L1011.00,432.42 L1012.00,432.47 L1013.00,432.52 L1014.00,432.57 L1015.00,432.63 L1016.00,432.68 L1017.00,432.73 L1018.00,432.78 L1019.00,432.83 L1020.00,432.88 L1021.00,432.93 L1022.00,432.98 L1023.00,433.03 L1024.00,433.08 L1025.00,433.14 L1026.00,433.19 L1027.00,433.24 L1028.00,433.28 L1029.00,433.33 L1030.00,433.38 L1031.00,433.43 L1032.00,433.48 L1033.00,433.53 L1034.00,433.58 L1035.00,433.63 L1036.00,433.67 L1037.00,433.72 L1038.00,433.77 L1039.00,433.81 L1040.00,433.86 L1041.00,433.90 L1042.00,433.95 L1043.00,433.99" stroke="#00ffff"/>
<path d="M625.60,310.88 L626.10,311.36 L626.59,311.87 L627.09,312.41 L627.58,312.96 L628.08,313.52 L628.58,314.09 L629.07,314.68 L629.57,315.27 L630.06,315.86 L630.56,316.46 L631.06,317.06 L631.55,317.67 L632.05,318.28 L632.54,318.89 L633.04,319.51 L633.54,320.12 L634.03,320.74 L634.53,321.36 L635.02,321.98 L635.52,322.60 L636.02,323.22 L636.51,323.84 L637.01,324.45 L637.50,325.07 L638.00,325.69 L638.50,326.31 L638.99,326.92 L639.49,327.54 L639.98,328.15 L640.48,328.77 L640.98,329.38 L641.47,329.99 L641.97,330.59 L642.46,331.20 L642.96,331.81 L643.46,332.41 L643.95,333.01 L644.45,333.61 L644.94,334.20 L645.44,334.80 L645.94,335.39 L646.43,335.98 L646.93,336.57 L647.42,337.15 L647.92,337.74 L648.42,338.32 L648.91,338.90 L649.41,339.47 L649.90,340.04 L650.40,340.62 L650.90,341.18 L651.39,341.75 L651.89,342.31 L652.38,342.87 L652.88,343.43 L653.38,343.98 L653.87,344.54 L654.37,345.08 L654.86,345.63 L655.36,346.17 L655.86,346.72 L656.35,347.25 L656.85,347.79 L657.34,348.32 L657.84,348.85 L658.34,349.38 L658.83,349.90 L659.33,350.42 L659.82,350.94 L660.32,351.45 L660.82,351.97 L661.31,352.48 L661.81,352.98 L662.30,353.49 L662.80,353.99 L663.30,354.49 L663.79,354.98 L664.29,355.47 L664.78,355.96 L665.28,356.45 L665.78,356.93 L666.27,357.41 L666.77,357.89 L667.26,358.37 L667.76,358.84 L668.26,359.31 L668.75,359.78 L669.25,360.24 L669.74,360.70 L670.24,361.16 L670.74,361.62 L671.23,362.07 L671.73,362.52 L672.22,362.97 L672.72,363.41 L673.22,363.85 L673.71,364.29 L674.21,364.73 L674.70,365.16 L675.20,365.59 L675.70,366.02 L676.19,366.45 L676.69,366.87 L677.18,367.29 L677.68,367.71 L678.18,368.12 L678.67,368.54 L679.17,368.95 L679.66,369.35 L680.16,369.76 L680.66,370.16 L681.15,370.56 L681.65,370.96 L682.14,371.35 L682.64,371.75 L683.14,372.14 L683.63,372.52 L684.13,372.91 L684.62,373.29 L685.12,373.67 L685.62,374.05 L686.11,374.43 L686.61,374.80 L687.10,375.17 L687.60,375.54 L688.10,375.91 L688.59,376.27 L689.09,376.63 L689.58,376.99 L690.08,377.35 L690.58,377.70 L691.07,378.06 L691.57,378.41 L692.06,378.76 L692.56,379.10 L693.06,379.45 L693.55,379.79 L694.05,380.13 L694.54,380.47 L695.04,380.80 L695.54,381.14 L696.03,381.47 L696.53,381.80 L697.02,382.13 L697.52,382.45 L698.02,382.78 L698.51,383.10 L699.01,383.42 L699.50,383.74 L700.00,384.05 L701.00,384.68 L702.00,385.31 L703.00,385.93 L704.00,386.54 L705.00,387.14 L706.00,387.73 L707.00,388.32 L708.00,388.90 L709.00,389.48 L710.00,390.05 L711.00,390.61 L712.00,391.17 L713.00,391.72 L714.00,392.26 L715.00,392.80 L716.00,393.33 L717.00,393.86 L718.00,394.38 L719.00,394.90 L720.00,395.41 L721.00,395.92 L722.00,396.42 L723.00,396.91 L724.00,397.41 L725.00,397.89 L726.00,398.37 L727.00,398.85 L728.00,399.32 L729.00,399.79 L730.00,400.26 L731.00,400.72 L732.00,401.17 L733.00,401.63 L734.00,402.07 L735.00,402.52 L736.00,402.96 L737.00,403.40 L738.00,403.83 L739.00,404.26 L740.00,404.69 L741.00,405.11 L742.00,405.53 L743.00,405.94 L744.00,406.36 L745.00,406.77 L746.00,407.17 L747.00,407.58 L748.00,407.98 L749.00,408.37 L750.00,408.77 L751.00,409.16 L752.00,409.55 L753.00,409.94 L754.00,410.32 L755.00,410.70 L756.00,411.08 L757.00,411.45 L758.00,411.82 L759.00,412.19 L760.00,412.56 L761.00,412.92 L762.00,413.28 L763.00,413.64 L764.00,414.00 L765.00,414.35 L766.00,414.70 L767.00,415.05 L768.00,415.39 L769.00,415.73 L770.00,416.07 L771.00,416.41 L772.00,416.74 L773.00,417.08 L774.00,417.40 L775.00,417.73 L776.00,418.05 L777.00,418.37 L778.00,418.69 L779.00,419.01 L780.00,419.32 L781.00,419.63 L782.00,419.93 L783.00,420.24 L784.00,420.54 L785.00,420.84 L786.00,421.13 L787.00,421.42 L788.00,421.71 L789.00,422.00 L790.00,422.28 L791.00,422.56 L792.00,422.83 L793.00,423.11 L794.00,423.38 L795.00,423.65 L796.00,423.91 L797.00,424.17 L798.00,424.43 L799.00,424.68 L800.00,424.93 L801.00,425.18 L802.00,425.42 L803.00,425.66 L804.00,425.90 L805.00,426.13 L806.00,426.37 L807.00,426.59 L808.00,426.82 L809.00,427.04 L810.00,427.25 L811.00,427.47 L812.00,427.68 L813.00,427.88 L814.00,428.09 L815.00,428.28 L816.00,428.48 L817.00,428.67 L818.00,428.86 L819.00,429.05 L820.00,429.23 L821.00,429.41 L822.00,429.58 L823.00,429.76 L824.00,429.92 L825.00,430.09 L826.00,430.25 L827.00,430.41 L828.00,430.56 L829.00,430.71 L830.00,430.86 L831.00,431.01 L832.00,431.15 L833.00,431.29 L834.00,431.42 L835.00,431.55 L836.00,431.68 L837.00,431.81 L838.00,431.93 L839.00,432.05 L840.00,432.16 L841.00,432.28 L842.00,432.39 L843.00,432.50 L844.00,432.60 L845.00,432.70 L846.00,432.80 L847.00,432.90 L848.00,432.99 L849.00,433.08 L850.00,433.17 L851.00,433.26 L852.00,433.34 L853.00,433.42 L854.00,433.50 L855.00,433.58 L856.00,433.65 L857.00,433.72 L858.00,433.79 L859.00,433.86 L860.00,433.93 L861.00,433.99 L862.00,434.05 L863.00,434.11 L864.00,434.17 L865.00,434.22 L866.00,434.28 L867.00,434.33 L868.00,434.38 L869.00,434.43 L870.00,434.47 L871.00,434.52 L872.00,434.56 L873.00,434.61 L874.00,434.65 L875.00,434.69 L876.00,434.73 L877.00,434.76 L878.00,434.80 L879.00,434.83 L880.00,434.87 L881.00,434.90 L882.00,434.93 L883.00,434.96 L884.00,434.99 L885.00,435.02 L886.00,435.05 L887.00,435.07 L888.00,435.10 L889.00,435.12 L890.00,435.15 L891.00,435.17 L892.00,435.19 L893.00,435.21 L894.00,435.23 L895.00,435.25 L896.00,435.27 L897.00,435.29 L898.00,435.31 L899.00,435.33 L900.00,435.35 L901.00,435.36 L902.00,435.38 L903.00,435.39 L904.00,435.41 L905.00,435.42 L906.00,435.44 L907.00,435.45 L908.00,435.46 L909.00,435.48 L910.00,435.49 L911.00,435.50 L912.00,435.51 L913.00,435.53 L914.00,435.54 L915.00,435.55 L916.00,435.56 L917.00,435.57 L918.00,435.58 L919.00,435.59 L920.00,435.60 L921.00,435.61 L922.00,435.62 L923.00,435.62 L924.00,435.63 L925.00,435.64 L926.00,435.65 L927.00,435.66 L928.00,435.66 L929.00,435.67 L930.00,435.68 L931.00,435.69 L932.00,435.69 L933.00,435.70 L934.00,435.71 L935.00,435.71 L936.00,435.72 L937.00,435.73 L938.00,435.73 L939.00,435.74 L940.00,435.74 L941.00,435.75 L942.00,435.76 L943.00,435.76 L944.00,435.77 L945.00,435.77 L946.00,435.78 L947.00,435.78 L948.00,435.79 L949.00,435.79 L950.00,435.79 L951.00,435.80 L952.00,435.80 L953.00,435.81 L954.00,435.81 L955.00,435.82 L956.00,435.82 L957.00,435.82 L958.00,435.83 L959.00,435.83 L960.00,435.84 L961.00,435.84 L962.00,435.84 L963.00,435.85 L964.00,435.85 L965.00,435.85 L966.00,435.86 L967.00,435.86 L968.00,435.86 L969.00,435.87 L970.00,435.87 L971.00,435.87 L972.00,435.87 L973.00,435.88 L974.00,435.88 L975.00,435.88 L976.00,435.88 L977.00,435.89 L978.00,435.89 L979.00,435.89 L980.00,435.89 L981.00,435.90 L982.00,435.90 L983.00,435.90 L984.00,435.90 L985.00,435.91 L986.00,435.91 L987.00,435.91 L988.00,435.91 L989.00,435.91 L990.00,435.92 L991.00,435.92 L992.00,435.92 L993.00,435.92 L994.00,435.92 L995.00,435.92 L996.00,435.93 L997.00,435.93 L998.00,435.93 L999.00,435.93 L1000.00,435.93 L1001.00,435.93 L1002.00,435.94 L1003.00,435.94 L1004.00,435.94 L1005.00,435.94 L1006.00,435.94 L1007.00,435.94 L1008.00,435.94 L1009.00,435.94 L1010.00,435.95 L1011.00,435.95 L1012.00,435.95 L1013.00,435.95 L1014.00,435.95 L1015.00,435.95 L1016.00,435.95 L1017.00,435.95 L1018.00,435.96 L1019.00,435.96 L1020.00,435.96 L1021.00,435.96 L1022.00,435.96 L1023.00,435.96 L1024.00,435.96 L1025.00,435.96 L1026.00,435.96 L1027.00,435.96 L1028.00,435.96 L1029.00,435.96 L1030.00,435.97 L1031.00,435.97 L1032.00,435.97 L1033.00,435.97 L1034.00,435.97 L1035.00,435.97 L1036.00,435.97 L1037.00,435.97 L1038.00,435.97 L1039.00,435.97 L1040.00,435.97 L1041.00,435.97 L1042.00,435.97 L1043.00,435.97" stroke="#0000ff"/>
<path d="M625.60,307.79 L626.10,308.20 L626.59,308.63 L627.09,309.07 L627.58,309.52 L628.08,309.97 L628.58,310.44 L629.07,310.91 L629.57,311.39 L630.06,311.86 L630.56,312.35 L631.06,312.83 L631.55,313.32 L632.05,313.81 L632.54,314.30 L633.04,314.79 L633.54,315.29 L634.03,315.78 L634.53,316.27 L635.02,316.77 L635.52,317.27 L636.02,317.76 L636.51,318.26 L637.01,318.75 L637.50,319.25 L638.00,319.75 L638.50,320.24 L638.99,320.74 L639.49,321.23 L639.98,321.72 L640.48,322.22 L640.98,322.71 L641.47,323.20 L641.97,323.69 L642.46,324.18 L642.96,324.67 L643.46,325.15 L643.95,325.64 L644.45,326.12 L644.94,326.61 L645.44,327.09 L645.94,327.57 L646.43,328.05 L646.93,328.53 L647.42,329.01 L647.92,329.48 L648.42,329.96 L648.91,330.43 L649.41,330.90 L649.90,331.37 L650.40,331.84 L650.90,332.31 L651.39,332.77 L651.89,333.24 L652.38,333.70 L652.88,334.16 L653.38,334.62 L653.87,335.08 L654.37,335.53 L654.86,335.98 L655.36,336.44 L655.86,336.89 L656.35,337.34 L656.85,337.78 L657.34,338.23 L657.84,338.67 L658.34,339.11 L658.83,339.55 L659.33,339.99 L659.82,340.43 L660.32,340.86 L660.82,341.30 L661.31,341.73 L661.81,342.16 L662.30,342.59 L662.80,343.01 L663.30,343.44 L663.79,343.86 L664.29,344.28 L664.78,344.70 L665.28,345.11 L665.78,345.53 L666.27,345.94 L666.77,346.36 L667.26,346.76 L667.76,347.17 L668.26,347.58 L668.75,347.98 L669.25,348.39 L669.74,348.79 L670.24,349.19 L670.74,349.58 L671.23,349.98 L671.73,350.37 L672.22,350.76 L672.72,351.15 L673.22,351.54 L673.71,351.93 L674.21,352.31 L674.70,352.70 L675.20,353.08 L675.70,353.46 L676.19,353.83 L676.69,354.21 L677.18,354.58 L677.68,354.96 L678.18,355.33 L678.67,355.70 L679.17,356.06 L679.66,356.43 L680.16,356.79 L680.66,357.15 L681.15,357.51 L681.65,357.87 L682.14,358.23 L682.64,358.59 L683.14,358.94 L683.63,359.29 L684.13,359.64 L684.62,359.99 L685.12,360.34 L685.62,360.68 L686.11,361.02 L686.61,361.37 L687.10,361.71 L687.60,362.04 L688.10,362.38 L688.59,362.72 L689.09,363.05 L689.58,363.38 L690.08,363.71 L690.58,364.04 L691.07,364.37 L691.57,364.69 L692.06,365.02 L692.56,365.34 L693.06,365.66 L693.55,365.98 L694.05,366.30 L694.54,366.62 L695.04,366.93 L695.54,367.24 L696.03,367.56 L696.53,367.87 L697.02,368.17 L697.52,368.48 L698.02,368.79 L698.51,369.09 L699.01,369.39 L699.50,369.70 L700.00,369.99 L701.00,370.60 L702.00,371.19 L703.00,371.78 L704.00,372.36 L705.00,372.94 L706.00,373.51 L707.00,374.08 L708.00,374.64 L709.00,375.19 L710.00,375.74 L711.00,376.29 L712.00,376.82 L713.00,377.36 L714.00,377.89 L715.00,378.41 L716.00,378.93 L717.00,379.45 L718.00,379.96 L719.00,380.46 L720.00,380.96 L721.00,381.46 L722.00,381.95 L723.00,382.43 L724.00,382.91 L725.00,383.39 L726.00,383.87 L727.00,384.33 L728.00,384.80 L729.00,385.26 L730.00,385.72 L731.00,386.17 L732.00,386.62 L733.00,387.06 L734.00,387.50 L735.00,387.94 L736.00,388.37 L737.00,388.80 L738.00,389.23 L739.00,389.65 L740.00,390.07 L741.00,390.48 L742.00,390.89 L743.00,391.30 L744.00,391.70 L745.00,392.11 L746.00,392.50 L747.00,392.90 L748.00,393.29 L749.00,393.68 L750.00,394.07 L751.00,394.45 L752.00,394.83 L753.00,395.20 L754.00,395.58 L755.00,395.95 L756.00,396.32 L757.00,396.68 L758.00,397.05 L759.00,397.41 L760.00,397.76 L761.00,398.12 L762.00,398.47 L763.00,398.82 L764.00,399.17 L765.00,399.51 L766.00,399.86 L767.00,400.20 L768.00,400.53 L769.00,400.87 L770.00,401.20 L771.00,401.53 L772.00,401.86 L773.00,402.19 L774.00,402.51 L775.00,402.83 L776.00,403.15 L777.00,403.47 L778.00,403.79 L779.00,404.10 L780.00,404.41 L781.00,404.72 L782.00,405.03 L783.00,405.34 L784.00,405.64 L785.00,405.95 L786.00,406.25 L787.00,406.54 L788.00,406.84 L789.00,407.14 L790.00,407.43 L791.00,407.72 L792.00,408.01 L793.00,408.30 L794.00,408.59 L795.00,408.87 L796.00,409.15 L797.00,409.43 L798.00,409.71 L799.00,409.99 L800.00,410.27 L801.00,410.54 L802.00,410.82 L803.00,411.09 L804.00,411.36 L805.00,411.62 L806.00,411.89 L807.00,412.16 L808.00,412.42 L809.00,412.68 L810.00,412.94 L811.00,413.20 L812.00,413.46 L813.00,413.71 L814.00,413.97 L815.00,414.22 L816.00,414.47 L817.00,414.72 L818.00,414.97 L819.00,415.22 L820.00,415.46 L821.00,415.71 L822.00,415.95 L823.00,416.19 L824.00,416.43 L825.00,416.67 L826.00,416.90 L827.00,417.14 L828.00,417.37 L829.00,417.60 L830.00,417.83 L831.00,418.06 L832.00,418.29 L833.00,418.51 L834.00,418.74 L835.00,418.96 L836.00,419.18 L837.00,419.40 L838.00,419.62 L839.00,419.83 L840.00,420.05 L841.00,420.26 L842.00,420.47 L843.00,420.68 L844.00,420.89 L845.00,421.10 L846.00,421.30 L847.00,421.50 L848.00,421.71 L849.00,421.91 L850.00,422.11 L851.00,422.30 L852.00,422.50 L853.00,422.69 L854.00,422.89 L855.00,423.08 L856.00,423.27 L857.00,423.45 L858.00,423.64 L859.00,423.82 L860.00,424.01 L861.00,424.19 L862.00,424.37 L863.00,424.55 L864.00,424.72 L865.00,424.90 L866.00,425.07 L867.00,425.24 L868.00,425.41 L869.00,425.58 L870.00,425.74 L871.00,425.91 L872.00,426.07 L873.00,426.23 L874.00,426.39 L875.00,426.55 L876.00,426.71 L877.00,426.86 L878.00,427.01 L879.00,427.16 L880.00,427.31 L881.00,427.46 L882.00,427.61 L883.00,427.75 L884.00,427.89 L885.00,428.03 L886.00,428.17 L887.00,428.31 L888.00,428.45 L889.00,428.58 L890.00,428.71 L891.00,428.84 L892.00,428.97 L893.00,429.10 L894.00,429.23 L895.00,429.35 L896.00,429.47 L897.00,429.60 L898.00,429.71 L899.00,429.83 L900.00,429.95 L901.00,430.06 L902.00,430.18 L903.00,430.29 L904.00,430.40 L905.00,430.51 L906.00,430.61 L907.00,430.72 L908.00,430.82 L909.00,430.92 L910.00,431.02 L911.00,431.12 L912.00,431.22 L913.00,431.31 L914.00,431.41 L915.00,431.50 L916.00,431.59 L917.00,431.68 L918.00,431.77 L919.00,431.86 L920.00,431.94 L921.00,432.03 L922.00,432.11 L923.00,432.19 L924.00,432.27 L925.00,432.35 L926.00,432.42 L927.00,432.50 L928.00,432.57 L929.00,432.65 L930.00,432.72 L931.00,432.79 L932.00,432.86 L933.00,432.92 L934.00,432.99 L935.00,433.06 L936.00,433.12 L937.00,433.18 L938.00,433.24 L939.00,433.30 L940.00,433.36 L941.00,433.42 L942.00,433.48 L943.00,433.53 L944.00,433.59 L945.00,433.64 L946.00,433.69 L947.00,433.75 L948.00,433.80 L949.00,433.84 L950.00,433.89 L951.00,433.94 L952.00,433.99 L953.00,434.03 L954.00,434.08 L955.00,434.12 L956.00,434.16 L957.00,434.20 L958.00,434.24 L959.00,434.28 L960.00,434.32 L961.00,434.36 L962.00,434.40 L963.00,434.43 L964.00,434.47 L965.00,434.50 L966.00,434.54 L967.00,434.57 L968.00,434.60 L969.00,434.63 L970.00,434.66 L971.00,434.69 L972.00,434.72 L973.00,434.75 L974.00,434.78 L975.00,434.81 L976.00,434.83 L977.00,434.86 L978.00,434.89 L979.00,434.91 L980.00,434.94 L981.00,434.96 L982.00,434.98 L983.00,435.00 L984.00,435.03 L985.00,435.05 L986.00,435.07 L987.00,435.09 L988.00,435.11 L989.00,435.13 L990.00,435.15 L991.00,435.17 L992.00,435.18 L993.00,435.20 L994.00,435.22 L995.00,435.24 L996.00,435.25 L997.00,435.27 L998.00,435.28 L999.00,435.30 L1000.00,435.31 L1001.00,435.33 L1002.00,435.34 L1003.00,435.36 L1004.00,435.37 L1005.00,435.38 L1006.00,435.40 L1007.00,435.41 L1008.00,435.42 L1009.00,435.43 L1010.00,435.44 L1011.00,435.46 L1012.00,435.47 L1013.00,435.48 L1014.00,435.49 L1015.00,435.50 L1016.00,435.51 L1017.00,435.52 L1018.00,435.53 L1019.00,435.54 L1020.00,435.55 L1021.00,435.55 L1022.00,435.56 L1023.00,435.57 L1024.00,435.58 L1025.00,435.59 L1026.00,435.60 L1027.00,435.60 L1028.00,435.61 L1029.00,435.62 L1030.00,435.63 L1031.00,435.63 L1032.00,435.64 L1033.00,435.65 L1034.00,435.65 L1035.00,435.66 L1036.00,435.67 L1037.00,435.67 L1038.00,435.68 L1039.00,435.68 L1040.00,435.69 L1041.00,435.70 L1042.00,435.70 L1043.00,435.71" stroke="#808080"/>
</g>
<rect x="625" y="435.4" width="411" height="1.6" fill="#ff7f00"/>
<rect x="1036" y="435.4" width="6" height="1.6" fill="#3a1a00"/>
<text x="539.2" y="25.1" font-size="17">(b)</text>
<text x="615" y="28.6" font-size="20.3" font-weight="bold" text-anchor="end">0.15</text>
<text x="615" y="166.8" font-size="20.3" font-weight="bold" text-anchor="end">0.10</text>
<text x="615" y="304.9" font-size="20.3" font-weight="bold" text-anchor="end">0.05</text>
<text x="615" y="443.1" font-size="20.3" font-weight="bold" text-anchor="end">0.00</text>
<text x="626.3" y="463.5" font-size="20.3" font-weight="bold" text-anchor="middle">200</text>
<text x="730.5" y="463.5" font-size="20.3" font-weight="bold" text-anchor="middle">215</text>
<text x="834.8" y="463.5" font-size="20.3" font-weight="bold" text-anchor="middle">230</text>
<text x="939.0" y="463.5" font-size="20.3" font-weight="bold" text-anchor="middle">245</text>
<text x="1043.3" y="463.5" font-size="20.3" font-weight="bold" text-anchor="middle">260</text>
<text x="826.0" y="499.8" font-size="20.6" font-weight="bold" text-anchor="middle">Wavelength [nm]</text>
<text transform="translate(559.9,229.8) rotate(-90)" font-size="20.5" font-weight="bold" text-anchor="middle">Extinction coefficient</text>
<rect x="873.5" y="28.5" width="163.5" height="117" fill="#fff" stroke="#b4b4b4" stroke-width="1"/>
<line x1="875.8" y1="36.5" x2="902.4" y2="36.5" stroke="#000000" stroke-width="3" stroke-linecap="round"/>
<text x="906.5" y="40.7" font-size="12.4" font-weight="bold">SiO<tspan font-size="12.4" dy="3.4">2</tspan><tspan dy="-3.4">=3016 Cycles</tspan></text>
<line x1="875.8" y1="56" x2="902.4" y2="56" stroke="#ff0000" stroke-width="3" stroke-linecap="round"/>
<text x="906.5" y="60.2" font-size="12.4" font-weight="bold">HfO<tspan font-size="12.4" dy="3.4">2</tspan><tspan dy="-3.4">=1524 Cycles</tspan></text>
<line x1="875.8" y1="75.5" x2="902.4" y2="75.5" stroke="#00ffff" stroke-width="3" stroke-linecap="round"/>
<text x="906.5" y="79.7" font-size="12.4" font-weight="bold">SiO<tspan font-size="12.4" dy="3.4">2</tspan><tspan dy="-3.4">:HfO</tspan><tspan font-size="12.4" dy="3.4">2</tspan><tspan dy="-3.4">=[2:2]*615</tspan></text>
<line x1="875.8" y1="95.2" x2="902.4" y2="95.2" stroke="#0000ff" stroke-width="3" stroke-linecap="round"/>
<text x="906.5" y="99.4" font-size="12.4" font-weight="bold">SiO<tspan font-size="12.4" dy="3.4">2</tspan><tspan dy="-3.4">:HfO</tspan><tspan font-size="12.4" dy="3.4">2</tspan><tspan dy="-3.4">=[4:4]*315</tspan></text>
<line x1="875.8" y1="114.8" x2="902.4" y2="114.8" stroke="#ff7f00" stroke-width="3" stroke-linecap="round"/>
<text x="906.5" y="119.0" font-size="12.4" font-weight="bold">SiO<tspan font-size="12.4" dy="3.4">2</tspan><tspan dy="-3.4">:HfO</tspan><tspan font-size="12.4" dy="3.4">2</tspan><tspan dy="-3.4">=[8:8]*145</tspan></text>
<line x1="875.8" y1="134.5" x2="902.4" y2="134.5" stroke="#808080" stroke-width="3" stroke-linecap="round"/>
<text x="906.5" y="138.7" font-size="12.4" font-weight="bold">SiO<tspan font-size="12.4" dy="3.4">2</tspan><tspan dy="-3.4">:HfO</tspan><tspan font-size="12.4" dy="3.4">2</tspan><tspan dy="-3.4">=[16:16]*72</tspan></text>
</svg></body></html>
